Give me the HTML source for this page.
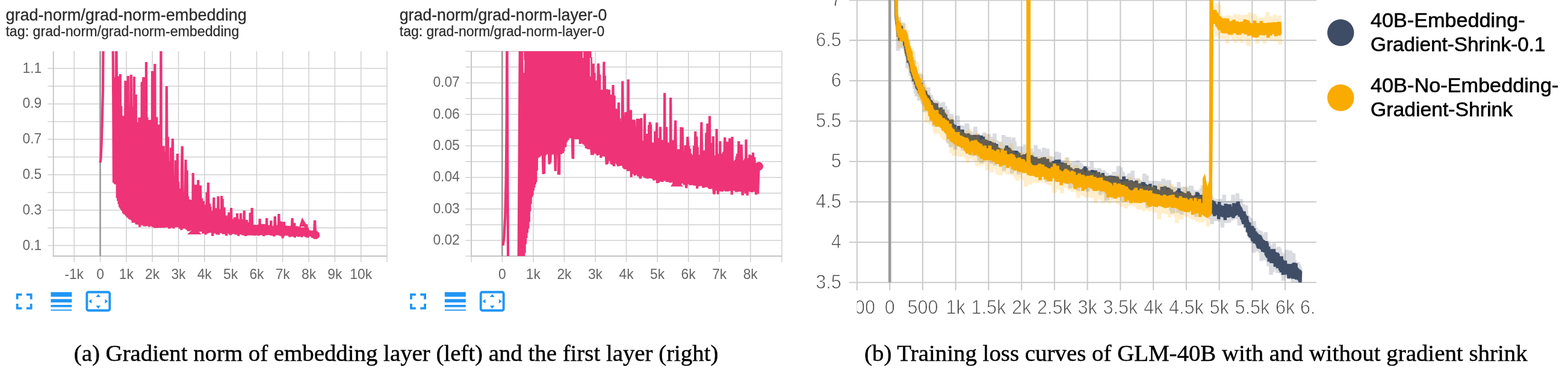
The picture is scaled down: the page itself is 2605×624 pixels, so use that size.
<!DOCTYPE html>
<html lang="en"><head><meta charset="utf-8"><title>Gradient norm and training loss</title>
<style>
html,body{margin:0;padding:0;background:#fff;}
body{width:2605px;height:624px;overflow:hidden;font-family:"Liberation Sans",sans-serif;}
svg{display:block;}
</style></head><body>
<svg width="2605" height="624" viewBox="0 0 2605 624" font-family="'Liberation Sans', sans-serif">
<rect width="2605" height="624" fill="#fff"/>
<g stroke="#d0d0d0" stroke-width="1.5" fill="none"><line x1="123.2" y1="85.0" x2="123.2" y2="435.0"/><line x1="166.5" y1="85.0" x2="166.5" y2="435.0"/><line x1="209.8" y1="85.0" x2="209.8" y2="435.0"/><line x1="253.1" y1="85.0" x2="253.1" y2="435.0"/><line x1="296.5" y1="85.0" x2="296.5" y2="435.0"/><line x1="339.8" y1="85.0" x2="339.8" y2="435.0"/><line x1="383.1" y1="85.0" x2="383.1" y2="435.0"/><line x1="426.4" y1="85.0" x2="426.4" y2="435.0"/><line x1="469.7" y1="85.0" x2="469.7" y2="435.0"/><line x1="513.1" y1="85.0" x2="513.1" y2="435.0"/><line x1="556.4" y1="85.0" x2="556.4" y2="435.0"/><line x1="599.7" y1="85.0" x2="599.7" y2="435.0"/><line x1="643.0" y1="85.0" x2="643.0" y2="435.0"/><line x1="79.2" y1="113.6" x2="643.0" y2="113.6"/><line x1="79.2" y1="143.0" x2="643.0" y2="143.0"/><line x1="79.2" y1="172.4" x2="643.0" y2="172.4"/><line x1="79.2" y1="201.8" x2="643.0" y2="201.8"/><line x1="79.2" y1="231.2" x2="643.0" y2="231.2"/><line x1="79.2" y1="260.6" x2="643.0" y2="260.6"/><line x1="79.2" y1="290.0" x2="643.0" y2="290.0"/><line x1="79.2" y1="319.4" x2="643.0" y2="319.4"/><line x1="79.2" y1="348.8" x2="643.0" y2="348.8"/><line x1="79.2" y1="378.2" x2="643.0" y2="378.2"/><line x1="79.2" y1="407.6" x2="643.0" y2="407.6"/></g>
<g stroke="#c4c4c4" stroke-width="1.8" fill="none"><line x1="88.7" y1="85.0" x2="88.7" y2="425.9"/><line x1="87.8" y1="425.0" x2="643.0" y2="425.0"/></g>
<line x1="166.5" y1="85.0" x2="166.5" y2="425.0" stroke="#999" stroke-width="2.6"/>
<g font-size="23.4" fill="#666"><text x="107.3" y="462.6" textLength="31.7" lengthAdjust="spacingAndGlyphs">-1k</text><text x="160.2" y="462.6" textLength="12.7" lengthAdjust="spacingAndGlyphs">0</text><text x="197.8" y="462.6" textLength="24.1" lengthAdjust="spacingAndGlyphs">1k</text><text x="241.1" y="462.6" textLength="24.1" lengthAdjust="spacingAndGlyphs">2k</text><text x="284.4" y="462.6" textLength="24.1" lengthAdjust="spacingAndGlyphs">3k</text><text x="327.7" y="462.6" textLength="24.1" lengthAdjust="spacingAndGlyphs">4k</text><text x="371.1" y="462.6" textLength="24.1" lengthAdjust="spacingAndGlyphs">5k</text><text x="414.4" y="462.6" textLength="24.1" lengthAdjust="spacingAndGlyphs">6k</text><text x="457.7" y="462.6" textLength="24.1" lengthAdjust="spacingAndGlyphs">7k</text><text x="501.0" y="462.6" textLength="24.1" lengthAdjust="spacingAndGlyphs">8k</text><text x="544.3" y="462.6" textLength="24.1" lengthAdjust="spacingAndGlyphs">9k</text><text x="581.3" y="462.6" textLength="36.8" lengthAdjust="spacingAndGlyphs">10k</text><text x="37.5" y="120.6" textLength="31.7" lengthAdjust="spacingAndGlyphs">1.1</text><text x="37.5" y="179.4" textLength="31.7" lengthAdjust="spacingAndGlyphs">0.9</text><text x="37.5" y="238.2" textLength="31.7" lengthAdjust="spacingAndGlyphs">0.7</text><text x="37.5" y="297.0" textLength="31.7" lengthAdjust="spacingAndGlyphs">0.5</text><text x="37.5" y="355.8" textLength="31.7" lengthAdjust="spacingAndGlyphs">0.3</text><text x="37.5" y="414.6" textLength="31.7" lengthAdjust="spacingAndGlyphs">0.1</text></g>
<clipPath id="cl"><rect x="88.7" y="85.0" width="554.3" height="340.0"/></clipPath>
<g clip-path="url(#cl)"><polyline points="166.5,270.0 167.5,262.0 168.6,240.0 169.8,200.0 171.0,150.0 171.6,60.0 173.0,-200.0 185.5,-200.0 187.0,60.0 187.5,60.0 188.2,158.6 188.9,302.9 189.7,128.3 190.4,304.6 191.1,154.7 191.8,306.0 192.5,168.2 193.3,60.0 194.0,152.4 194.7,328.4 195.4,187.0 196.1,333.4 196.9,126.4 197.6,338.8 198.3,193.0 199.0,343.4 199.7,123.0 200.5,346.0 201.2,175.7 201.9,347.9 202.6,191.9 203.3,350.0 204.1,199.6 204.8,353.5 205.5,192.5 206.2,355.5 206.9,209.3 207.7,355.3 208.4,134.0 209.1,357.4 209.8,137.4 210.5,358.5 211.3,182.8 212.0,360.8 212.7,126.0 213.4,361.4 214.1,198.2 214.9,363.3 215.6,180.0 216.3,364.5 217.0,189.7 217.7,124.0 218.5,213.6 219.2,365.9 219.9,177.2 220.6,369.7 221.3,233.5 222.1,367.9 222.8,127.3 223.5,369.3 224.2,181.6 224.9,369.4 225.7,157.0 226.4,372.2 227.1,205.9 227.8,372.7 228.5,217.2 229.3,370.7 230.0,202.9 230.7,371.1 231.4,194.9 232.1,376.7 232.9,246.4 233.6,372.9 234.3,223.3 235.0,373.7 235.7,136.0 236.5,372.4 237.2,202.5 237.9,134.0 238.6,128.1 239.3,375.4 240.1,253.8 240.8,375.8 241.5,203.4 242.2,374.8 242.9,103.0 243.7,375.0 244.4,194.7 245.1,375.3 245.8,201.8 246.5,374.4 247.3,258.2 248.0,376.6 248.7,199.1 249.4,374.7 250.1,200.9 250.9,375.3 251.6,200.3 252.3,371.7 253.0,118.0 253.7,376.7 254.5,209.7 255.2,375.9 255.9,210.7 256.6,377.9 257.3,106.0 258.1,378.3 258.8,228.4 259.5,374.4 260.2,194.3 260.9,378.3 261.7,244.8 262.4,376.7 263.1,206.7 263.8,377.7 264.5,256.2 265.3,376.9 266.0,250.8 266.7,378.0 267.4,60.0 268.1,377.7 268.9,279.8 269.6,377.0 270.3,278.3 271.0,377.5 271.7,242.3 272.5,378.1 273.2,251.1 273.9,376.6 274.6,258.4 275.3,377.4 276.1,299.1 276.8,143.0 277.5,265.3 278.2,376.9 278.9,227.2 279.7,377.5 280.4,267.7 281.1,379.6 281.8,273.6 282.5,379.1 283.3,290.4 284.0,245.0 284.7,283.7 285.4,377.2 286.1,255.4 286.9,230.0 287.6,305.7 288.3,379.3 289.0,301.0 289.7,377.3 290.5,296.4 291.2,376.4 291.9,266.0 292.6,376.2 293.3,316.4 294.1,377.1 294.8,254.9 295.5,375.3 296.2,301.7 296.9,374.1 297.7,313.0 298.4,379.6 299.1,320.6 299.8,379.1 300.5,313.7 301.3,381.8 302.0,278.1 302.7,242.5 303.4,323.6 304.1,379.1 304.9,318.6 305.6,379.4 306.3,322.2 307.0,379.3 307.7,317.9 308.5,265.0 309.2,323.1 309.9,380.7 310.6,282.6 311.3,381.6 312.1,325.9 312.8,383.6 313.5,336.3 314.2,383.7 314.9,331.1 315.7,381.4 316.4,331.7 317.1,382.4 317.8,338.0 318.5,382.2 319.3,340.3 320.0,385.0 320.7,287.0 321.4,383.3 322.1,335.4 322.9,382.4 323.6,333.2 324.3,383.3 325.0,306.5 325.7,384.3 326.5,340.3 327.2,386.0 327.9,335.0 328.6,384.7 329.3,298.8 330.1,382.5 330.8,338.7 331.5,384.6 332.2,341.9 332.9,307.7 333.7,338.0 334.4,382.9 335.1,329.0 335.8,384.1 336.5,339.3 337.3,387.8 338.0,333.6 338.7,385.8 339.4,348.7 340.1,384.5 340.9,342.5 341.6,389.5 342.3,339.5 343.0,385.9 343.7,318.7 344.5,387.5 345.2,349.4 345.9,303.0 346.6,347.7 347.3,386.5 348.1,338.1 348.8,384.8 349.5,343.2 350.2,386.2 350.9,356.6 351.7,386.3 352.4,349.7 353.1,391.8 353.8,353.9 354.5,386.0 355.3,327.8 356.0,386.7 356.7,358.9 357.4,387.5 358.1,345.4 358.9,385.1 359.6,351.7 360.3,389.3 361.0,347.1 361.7,384.0 362.5,325.7 363.2,389.6 363.9,352.1 364.6,386.7 365.3,347.0 366.1,386.9 366.8,360.4 367.5,384.0 368.2,325.0 368.9,386.4 369.7,330.0 370.4,388.3 371.1,357.7 371.8,388.8 372.5,344.0 373.3,388.3 374.0,357.9 374.7,388.3 375.4,357.5 376.1,391.3 376.9,364.7 377.6,387.4 378.3,362.1 379.0,387.2 379.7,361.1 380.5,352.5 381.2,366.7 381.9,389.3 382.6,357.6 383.3,390.2 384.1,345.0 384.8,386.4 385.5,364.4 386.2,387.4 386.9,365.1 387.7,388.4 388.4,363.5 389.1,388.2 389.8,360.6 390.5,387.0 391.3,364.5 392.0,389.4 392.7,361.1 393.4,388.8 394.1,354.0 394.9,389.4 395.6,368.9 396.3,391.6 397.0,363.5 397.7,386.7 398.5,366.2 399.2,389.0 399.9,353.9 400.6,387.2 401.3,366.9 402.1,388.5 402.8,364.0 403.5,390.4 404.2,372.9 404.9,388.9 405.7,349.6 406.4,388.9 407.1,371.8 407.8,391.8 408.5,374.1 409.3,390.5 410.0,365.0 410.7,390.7 411.4,374.3 412.1,389.6 412.9,369.2 413.6,389.9 414.3,374.6 415.0,390.4 415.7,353.0 416.5,387.8 417.2,373.6 417.9,390.7 418.6,345.0 419.3,390.6 420.1,374.9 420.8,388.5 421.5,373.6 422.2,390.7 422.9,373.0 423.7,390.9 424.4,375.2 425.1,388.2 425.8,374.5 426.5,389.9 427.3,373.3 428.0,389.5 428.7,373.0 429.4,391.2 430.1,372.9 430.9,389.4 431.6,363.0 432.3,390.0 433.0,377.1 433.7,390.1 434.5,371.9 435.2,389.4 435.9,371.9 436.6,387.3 437.3,372.4 438.1,391.9 438.8,372.1 439.5,389.5 440.2,375.2 440.9,390.4 441.7,372.0 442.4,390.1 443.1,362.0 443.8,389.5 444.5,374.9 445.3,389.0 446.0,373.6 446.7,389.8 447.4,378.3 448.1,390.2 448.9,373.9 449.6,390.0 450.3,366.1 451.0,391.0 451.7,375.0 452.5,387.0 453.2,379.9 453.9,390.3 454.6,380.0 455.3,392.5 456.1,377.6 456.8,359.0 457.5,374.9 458.2,390.4 458.9,376.2 459.7,390.2 460.4,375.2 461.1,390.0 461.8,373.8 462.5,389.8 463.3,355.0 464.0,390.8 464.7,378.3 465.4,390.9 466.1,367.2 466.9,391.8 467.6,375.1 468.3,392.0 469.0,376.9 469.7,395.4 470.5,368.2 471.2,392.2 471.9,368.0 472.6,388.5 473.3,379.2 474.1,390.7 474.8,377.6 475.5,388.1 476.2,374.7 476.9,391.1 477.7,380.5 478.4,391.0 479.1,375.9 479.8,389.1 480.5,374.8 481.3,393.5 482.0,375.7 482.7,392.6 483.4,379.0 484.1,390.9 484.9,375.5 485.6,362.0 486.3,380.2 487.0,392.6 487.7,377.9 488.5,387.3 489.2,370.0 489.9,394.3 490.6,377.2 491.3,391.9 492.1,378.0 492.8,388.7 493.5,375.4 494.2,391.2 494.9,377.7 495.7,393.0 496.4,378.5 497.1,390.0 497.8,376.4 498.5,392.5 499.3,377.3 500.0,390.5 500.7,378.0 501.4,393.6 502.1,381.8 502.9,390.6 503.6,377.7 504.3,389.4 505.0,377.3 505.7,391.5 506.5,380.7 507.2,392.5 507.9,372.4 508.6,393.5 509.3,372.3 510.1,394.2 510.8,377.9 511.5,394.4 512.2,381.7 512.9,391.6 513.7,382.5 514.4,391.8 515.1,383.7 515.8,391.6 516.5,382.6 517.3,392.1 518.0,383.5 518.7,394.5 519.4,382.5 520.1,394.3 520.9,382.8 521.6,393.6 522.3,380.3 523.0,365.6 524.2,390.0" fill="none" stroke="#EE3377" stroke-width="4.2" stroke-linejoin="miter" stroke-miterlimit="2"/>
<path d="M311 389 L323 378 L335 389z M497 376 L501.9 361 L511 376z" fill="#EE3377"/></g>
<circle cx="524.2" cy="390" r="7" fill="#EE3377"/>
<path d="M28.60 496.70 V488.90 H36.40 M43.90 488.90 H51.70 V496.70 M51.70 503.90 V511.70 H43.90 M36.40 511.70 H28.60 V503.90" stroke="#2196F3" stroke-width="3.8" fill="none"/><rect x="84.4" y="484.8" width="35" height="7.7" fill="#2196F3"/><rect x="84.4" y="496.3" width="35" height="5.6" fill="#2196F3"/><rect x="84.4" y="506.0" width="35" height="3.7" fill="#2196F3"/><rect x="84.4" y="513.7" width="35" height="1.9" fill="#2196F3"/><rect x="144.35" y="484.75" width="37.9" height="30.5" rx="2.6" ry="2.6" stroke="#2196F3" stroke-width="3.9" fill="none"/><path d="M163.2 488.0 l3.9 4.9 h-7.8z M163.2 512.2 l3.9 -4.9 h-7.8z M147.2 500.1 l4.9 -3.7 v7.4z M179.3 500.1 l-4.9 -3.7 v7.4z" fill="#2196F3"/>
<text x="9.4" y="33.7" font-size="28" fill="#2b2b2b" stroke="#2b2b2b" stroke-width="0.3" textLength="400.4" lengthAdjust="spacingAndGlyphs">grad-norm/grad-norm-embedding</text>
<text x="9.4" y="60.0" font-size="23" fill="#2b2b2b" stroke="#2b2b2b" stroke-width="0.25" textLength="388" lengthAdjust="spacingAndGlyphs">tag: grad-norm/grad-norm-embedding</text>
<g stroke="#d0d0d0" stroke-width="1.5" fill="none"><line x1="834.3" y1="85.0" x2="834.3" y2="435.0"/><line x1="885.9" y1="85.0" x2="885.9" y2="435.0"/><line x1="937.4" y1="85.0" x2="937.4" y2="435.0"/><line x1="989.0" y1="85.0" x2="989.0" y2="435.0"/><line x1="1040.5" y1="85.0" x2="1040.5" y2="435.0"/><line x1="1092.1" y1="85.0" x2="1092.1" y2="435.0"/><line x1="1143.7" y1="85.0" x2="1143.7" y2="435.0"/><line x1="1195.2" y1="85.0" x2="1195.2" y2="435.0"/><line x1="1246.8" y1="85.0" x2="1246.8" y2="435.0"/><line x1="1299.0" y1="85.0" x2="1299.0" y2="435.0"/><line x1="782.9" y1="85.0" x2="782.9" y2="435.0"/><line x1="773.4" y1="85.3" x2="1299.0" y2="85.3"/><line x1="773.4" y1="111.2" x2="1299.0" y2="111.2"/><line x1="773.4" y1="137.4" x2="1299.0" y2="137.4"/><line x1="773.4" y1="163.6" x2="1299.0" y2="163.6"/><line x1="773.4" y1="189.7" x2="1299.0" y2="189.7"/><line x1="773.4" y1="215.9" x2="1299.0" y2="215.9"/><line x1="773.4" y1="242.1" x2="1299.0" y2="242.1"/><line x1="773.4" y1="268.2" x2="1299.0" y2="268.2"/><line x1="773.4" y1="294.4" x2="1299.0" y2="294.4"/><line x1="773.4" y1="320.6" x2="1299.0" y2="320.6"/><line x1="773.4" y1="346.8" x2="1299.0" y2="346.8"/><line x1="773.4" y1="372.9" x2="1299.0" y2="372.9"/><line x1="773.4" y1="399.1" x2="1299.0" y2="399.1"/><line x1="773.4" y1="425.0" x2="1299.0" y2="425.0"/></g>
<g stroke="#c4c4c4" stroke-width="1.8" fill="none"><line x1="782.9" y1="85.0" x2="782.9" y2="425.9"/><line x1="782.0" y1="425.0" x2="1299.0" y2="425.0"/></g>
<line x1="834.3" y1="85.0" x2="834.3" y2="425.0" stroke="#999" stroke-width="2.6"/>
<g font-size="23.4" fill="#666"><text x="828.0" y="462.6" textLength="12.7" lengthAdjust="spacingAndGlyphs">0</text><text x="873.8" y="462.6" textLength="24.1" lengthAdjust="spacingAndGlyphs">1k</text><text x="925.4" y="462.6" textLength="24.1" lengthAdjust="spacingAndGlyphs">2k</text><text x="976.9" y="462.6" textLength="24.1" lengthAdjust="spacingAndGlyphs">3k</text><text x="1028.5" y="462.6" textLength="24.1" lengthAdjust="spacingAndGlyphs">4k</text><text x="1080.1" y="462.6" textLength="24.1" lengthAdjust="spacingAndGlyphs">5k</text><text x="1131.6" y="462.6" textLength="24.1" lengthAdjust="spacingAndGlyphs">6k</text><text x="1183.2" y="462.6" textLength="24.1" lengthAdjust="spacingAndGlyphs">7k</text><text x="1234.7" y="462.6" textLength="24.1" lengthAdjust="spacingAndGlyphs">8k</text><text x="719.4" y="144.4" textLength="44.4" lengthAdjust="spacingAndGlyphs">0.07</text><text x="719.4" y="196.7" textLength="44.4" lengthAdjust="spacingAndGlyphs">0.06</text><text x="719.4" y="249.1" textLength="44.4" lengthAdjust="spacingAndGlyphs">0.05</text><text x="719.4" y="301.4" textLength="44.4" lengthAdjust="spacingAndGlyphs">0.04</text><text x="719.4" y="353.8" textLength="44.4" lengthAdjust="spacingAndGlyphs">0.03</text><text x="719.4" y="406.1" textLength="44.4" lengthAdjust="spacingAndGlyphs">0.02</text></g>
<clipPath id="cm"><rect x="782.9" y="85.0" width="516.1" height="340.0"/></clipPath>
<g clip-path="url(#cm)"><polyline points="835.6,407.4 837.3,395.0 839.2,360.0 840.6,300.0 841.7,200.0 842.4,40.0 843.0,200.0 843.6,340.0 844.2,470.0 845.0,600.0 859.6,600.0 861.7,425.0 864.0,40.0 864.4,470.2 865.1,58.1 865.8,459.8 866.6,96.8 867.3,449.6 868.0,40.0 868.7,443.1 869.4,59.8 870.2,435.6 870.9,40.0 871.6,419.7 872.3,40.0 873.0,405.0 873.8,119.1 874.5,394.9 875.2,40.0 875.9,386.5 876.6,90.3 877.4,379.5 878.1,40.0 878.8,368.4 879.5,40.0 880.2,350.8 881.0,40.0 881.7,338.4 882.4,40.0 883.1,327.3 883.8,40.0 884.6,324.2 885.3,40.0 886.0,316.3 886.7,90.1 887.4,311.2 888.2,73.5 888.9,306.1 889.6,40.0 890.3,302.6 891.0,40.0 891.8,283.3 892.5,40.0 893.2,262.4 893.9,40.0 894.6,259.2 895.4,40.0 896.1,260.8 896.8,65.0 897.5,257.6 898.2,40.0 899.0,258.2 899.7,40.0 900.4,257.1 901.1,40.0 901.8,258.7 902.6,289.0 903.3,258.1 904.0,288.0 904.7,257.3 905.4,65.4 906.2,257.8 906.9,40.0 907.6,255.8 908.3,73.2 909.0,255.7 909.8,47.7 910.5,253.7 911.2,66.3 911.9,252.8 912.6,272.7 913.4,257.0 914.1,270.0 914.8,256.4 915.5,40.0 916.2,254.0 917.0,64.0 917.7,256.6 918.4,40.0 919.1,252.9 919.8,40.0 920.6,255.7 921.3,40.0 922.0,256.6 922.7,284.0 923.4,253.4 924.2,40.0 924.9,256.0 925.6,55.8 926.3,256.8 927.0,40.0 927.8,290.0 928.5,45.4 929.2,290.0 929.9,40.0 930.6,255.7 931.4,40.0 932.1,256.0 932.8,40.0 933.5,250.4 934.2,40.0 935.0,254.3 935.7,40.0 936.4,251.1 937.1,40.0 937.8,244.4 938.6,40.4 939.3,244.0 940.0,40.0 940.7,236.2 941.4,40.0 942.2,233.4 942.9,40.0 943.6,232.3 944.3,40.0 945.0,227.0 945.8,48.9 946.5,228.2 947.2,40.0 947.9,229.4 948.6,59.1 949.4,228.4 950.1,48.5 950.8,229.6 951.5,263.0 952.2,262.0 953.0,40.0 953.7,231.1 954.4,48.4 955.1,229.1 955.8,42.1 956.6,231.0 957.3,40.0 958.0,228.4 958.7,42.7 959.4,231.3 960.2,40.0 960.9,231.3 961.6,54.8 962.3,230.3 963.0,40.0 963.8,238.9 964.5,40.0 965.2,234.3 965.9,40.0 966.6,234.7 967.4,40.0 968.1,237.7 968.8,40.0 969.5,239.8 970.2,64.8 971.0,239.1 971.7,40.6 972.4,241.8 973.1,40.0 973.8,246.0 974.6,40.0 975.3,246.3 976.0,40.0 976.7,247.6 977.4,58.7 978.2,247.8 978.9,47.2 979.6,247.0 980.3,40.0 981.0,247.8 981.8,95.0 982.5,248.4 983.2,257.0 983.9,248.6 984.6,257.0 985.4,252.9 986.1,105.6 986.8,252.4 987.5,112.7 988.2,253.2 989.0,136.3 989.7,255.3 990.4,153.5 991.1,252.5 991.8,133.5 992.6,258.0 993.3,138.1 994.0,105.3 994.7,121.2 995.4,256.8 996.2,123.8 996.9,255.7 997.6,153.2 998.3,262.0 999.0,149.1 999.8,255.1 1000.5,158.3 1001.2,259.4 1001.9,167.6 1002.6,258.1 1003.4,102.4 1004.1,257.1 1004.8,125.2 1005.5,260.2 1006.2,164.5 1007.0,260.2 1007.7,273.0 1008.4,148.0 1009.1,272.0 1009.8,259.3 1010.6,166.2 1011.3,264.3 1012.0,148.8 1012.7,267.2 1013.4,202.4 1014.2,262.9 1014.9,157.3 1015.6,272.1 1016.3,186.6 1017.0,273.6 1017.8,190.2 1018.5,141.0 1019.2,196.5 1019.9,276.0 1020.6,158.6 1021.4,268.5 1022.1,190.1 1022.8,267.7 1023.5,180.5 1024.2,271.4 1025.0,213.6 1025.7,273.6 1026.4,214.4 1027.1,276.0 1027.8,170.1 1028.6,271.7 1029.3,196.5 1030.0,275.3 1030.7,202.0 1031.4,273.8 1032.2,207.9 1032.9,275.0 1033.6,210.3 1034.3,134.5 1035.0,203.8 1035.8,278.4 1036.5,191.8 1037.2,280.0 1037.9,198.7 1038.6,280.9 1039.4,186.1 1040.1,280.1 1040.8,201.6 1041.5,280.7 1042.2,215.5 1043.0,283.9 1043.7,131.7 1044.4,283.9 1045.1,199.0 1045.8,282.3 1046.6,221.2 1047.3,282.3 1048.0,182.5 1048.7,294.0 1049.4,201.1 1050.2,288.6 1050.9,215.9 1051.6,288.5 1052.3,198.6 1053.0,288.7 1053.8,199.3 1054.5,291.4 1055.2,212.3 1055.9,290.2 1056.6,212.5 1057.4,287.9 1058.1,212.8 1058.8,197.0 1059.5,221.2 1060.2,292.7 1061.0,229.1 1061.7,292.0 1062.4,197.3 1063.1,292.5 1063.8,296.0 1064.6,292.9 1065.3,196.1 1066.0,292.1 1066.7,233.7 1067.4,291.2 1068.2,235.3 1068.9,291.5 1069.6,233.4 1070.3,294.3 1071.0,188.4 1071.8,294.7 1072.5,239.5 1073.2,295.6 1073.9,235.5 1074.6,294.3 1075.4,221.9 1076.1,296.4 1076.8,223.7 1077.5,295.3 1078.2,207.6 1079.0,294.1 1079.7,202.4 1080.4,295.8 1081.1,206.4 1081.8,295.9 1082.6,242.6 1083.3,296.0 1084.0,244.1 1084.7,297.0 1085.4,236.5 1086.2,299.5 1086.9,250.4 1087.6,295.7 1088.3,217.7 1089.0,298.8 1089.8,252.0 1090.5,298.6 1091.2,203.6 1091.9,304.0 1092.6,228.9 1093.4,297.7 1094.1,303.0 1094.8,296.6 1095.5,247.0 1096.2,295.5 1097.0,210.6 1097.7,300.4 1098.4,239.0 1099.1,301.8 1099.8,234.7 1100.6,302.1 1101.3,232.3 1102.0,300.1 1102.7,250.3 1103.4,299.9 1104.2,154.3 1104.9,300.3 1105.6,211.0 1106.3,299.3 1107.0,210.8 1107.8,302.1 1108.5,240.9 1109.2,298.8 1109.9,236.5 1110.6,302.1 1111.4,238.2 1112.1,300.6 1112.8,238.3 1113.5,303.2 1114.2,162.0 1115.0,302.1 1115.7,249.5 1116.4,302.1 1117.1,246.6 1117.8,302.0 1118.6,232.4 1119.3,304.8 1120.0,248.7 1120.7,303.7 1121.4,231.5 1122.2,199.9 1122.9,253.2 1123.6,302.2 1124.3,249.7 1125.0,302.1 1125.8,253.8 1126.5,303.2 1127.2,247.6 1127.9,303.0 1128.6,252.5 1129.4,304.3 1130.1,259.2 1130.8,305.8 1131.5,211.1 1132.2,303.2 1133.0,246.8 1133.7,211.5 1134.4,259.1 1135.1,304.3 1135.8,261.8 1136.6,306.6 1137.3,257.7 1138.0,304.8 1138.7,241.0 1139.4,303.5 1140.2,312.0 1140.9,303.5 1141.6,256.4 1142.3,227.0 1143.0,237.9 1143.8,305.3 1144.5,242.4 1145.2,305.5 1145.9,247.0 1146.6,307.4 1147.4,254.3 1148.1,306.9 1148.8,257.0 1149.5,307.3 1150.2,261.6 1151.0,304.8 1151.7,263.2 1152.4,305.7 1153.1,242.0 1153.8,308.3 1154.6,256.1 1155.3,218.0 1156.0,252.7 1156.7,306.9 1157.4,226.4 1158.2,313.0 1158.9,244.0 1159.6,309.5 1160.3,264.3 1161.0,305.5 1161.8,265.5 1162.5,306.7 1163.2,256.7 1163.9,308.7 1164.6,245.1 1165.4,202.9 1166.1,252.8 1166.8,308.5 1167.5,256.6 1168.2,311.7 1169.0,249.6 1169.7,311.2 1170.4,253.6 1171.1,308.0 1171.8,270.0 1172.6,310.2 1173.3,220.3 1174.0,310.8 1174.7,267.5 1175.4,205.0 1176.2,247.8 1176.9,311.3 1177.6,251.0 1178.3,313.3 1179.0,192.4 1179.8,313.8 1180.5,254.3 1181.2,311.3 1181.9,237.3 1182.6,313.2 1183.4,248.3 1184.1,313.0 1184.8,226.2 1185.5,315.2 1186.2,322.0 1187.0,319.6 1187.7,257.9 1188.4,314.2 1189.1,262.5 1189.8,315.8 1190.6,213.9 1191.3,316.5 1192.0,273.3 1192.7,322.5 1193.4,260.4 1194.2,315.6 1194.9,255.5 1195.6,316.3 1196.3,234.2 1197.0,317.7 1197.8,254.7 1198.5,317.1 1199.2,257.1 1199.9,318.0 1200.6,265.0 1201.4,314.0 1202.1,252.1 1202.8,316.1 1203.5,258.0 1204.2,228.0 1205.0,255.7 1205.7,317.8 1206.4,253.5 1207.1,315.5 1207.8,235.3 1208.6,317.7 1209.3,263.8 1210.0,316.9 1210.7,262.5 1211.4,316.7 1212.2,229.6 1212.9,316.0 1213.6,266.7 1214.3,317.0 1215.0,262.3 1215.8,323.0 1216.5,227.0 1217.2,313.9 1217.9,268.1 1218.6,316.5 1219.4,272.9 1220.1,316.2 1220.8,267.4 1221.5,316.8 1222.2,265.1 1223.0,318.8 1223.7,259.4 1224.4,318.4 1225.1,255.1 1225.8,317.0 1226.6,277.0 1227.3,234.4 1228.0,263.6 1228.7,318.1 1229.4,255.7 1230.2,316.6 1230.9,273.8 1231.6,240.0 1232.3,256.5 1233.0,316.1 1233.8,324.0 1234.5,316.0 1235.2,273.1 1235.9,317.4 1236.6,265.7 1237.4,317.7 1238.1,263.2 1238.8,321.4 1239.5,231.6 1240.2,319.5 1241.0,278.3 1241.7,324.5 1242.4,262.3 1243.1,317.2 1243.8,266.2 1244.6,317.1 1245.3,256.6 1246.0,318.2 1246.7,272.7 1247.4,318.5 1248.2,270.7 1248.9,318.9 1249.6,257.7 1250.3,316.6 1251.0,253.2 1251.8,318.4 1252.5,263.0 1253.2,261.0 1253.9,272.7 1254.6,317.9 1255.4,279.4 1256.1,323.0 1256.8,271.6 1257.5,317.2 1258.2,276.5 1259.0,321.7 1260.7,276.0" fill="none" stroke="#EE3377" stroke-width="4.2" stroke-linejoin="miter" stroke-miterlimit="2"/>
<path d="M1114 309.5 L1123 296 L1135 309.5z" fill="#EE3377"/>
<path d="M869.6 86 L870.2 120 M870.8 100 L870.4 121 M968.6 86 V96 M980.8 96 V127 M988.6 106 V121" stroke="#fff" stroke-width="1.3" fill="none" opacity="0.9"/></g>
<circle cx="1260.8" cy="276" r="7.2" fill="#EE3377"/>
<path d="M683.00 496.70 V488.90 H690.80 M698.30 488.90 H706.10 V496.70 M706.10 503.90 V511.70 H698.30 M690.80 511.70 H683.00 V503.90" stroke="#2196F3" stroke-width="3.8" fill="none"/><rect x="738.8" y="484.8" width="35" height="7.7" fill="#2196F3"/><rect x="738.8" y="496.3" width="35" height="5.6" fill="#2196F3"/><rect x="738.8" y="506.0" width="35" height="3.7" fill="#2196F3"/><rect x="738.8" y="513.7" width="35" height="1.9" fill="#2196F3"/><rect x="798.75" y="484.75" width="37.9" height="30.5" rx="2.6" ry="2.6" stroke="#2196F3" stroke-width="3.9" fill="none"/><path d="M817.7 488.0 l3.9 4.9 h-7.8z M817.7 512.2 l3.9 -4.9 h-7.8z M801.6 500.1 l4.9 -3.7 v7.4z M833.8 500.1 l-4.9 -3.7 v7.4z" fill="#2196F3"/>
<text x="663.7" y="33.6" font-size="28" fill="#2b2b2b" stroke="#2b2b2b" stroke-width="0.3" textLength="344.6" lengthAdjust="spacingAndGlyphs">grad-norm/grad-norm-layer-0</text>
<text x="663.8" y="59.9" font-size="23" fill="#2b2b2b" stroke="#2b2b2b" stroke-width="0.25" textLength="340.4" lengthAdjust="spacingAndGlyphs">tag: grad-norm/grad-norm-layer-0</text>
<g stroke="#cbcbcb" stroke-width="2.1" fill="none"><line x1="1423.8" y1="0" x2="1423.8" y2="481.8"/><line x1="1532.9" y1="0" x2="1532.9" y2="481.8"/><line x1="1587.7" y1="0" x2="1587.7" y2="481.8"/><line x1="1642.4" y1="0" x2="1642.4" y2="481.8"/><line x1="1697.2" y1="0" x2="1697.2" y2="481.8"/><line x1="1751.9" y1="0" x2="1751.9" y2="481.8"/><line x1="1806.6" y1="0" x2="1806.6" y2="481.8"/><line x1="1861.4" y1="0" x2="1861.4" y2="481.8"/><line x1="1916.1" y1="0" x2="1916.1" y2="481.8"/><line x1="1970.9" y1="0" x2="1970.9" y2="481.8"/><line x1="2025.6" y1="0" x2="2025.6" y2="481.8"/><line x1="2080.3" y1="0" x2="2080.3" y2="481.8"/><line x1="2135.1" y1="0" x2="2135.1" y2="481.8"/><line x1="1410.8" y1="0.5" x2="2187.0" y2="0.5"/><line x1="1410.8" y1="66.9" x2="2187.0" y2="66.9"/><line x1="1410.8" y1="134.0" x2="2187.0" y2="134.0"/><line x1="1410.8" y1="201.0" x2="2187.0" y2="201.0"/><line x1="1410.8" y1="268.0" x2="2187.0" y2="268.0"/><line x1="1410.8" y1="335.0" x2="2187.0" y2="335.0"/><line x1="1410.8" y1="402.0" x2="2187.0" y2="402.0"/><line x1="1410.8" y1="468.8" x2="2187.0" y2="468.8"/></g>
<line x1="1478.2" y1="0" x2="1478.2" y2="468.8" stroke="#9a9a9a" stroke-width="4.6"/>
<line x1="1478.2" y1="468.8" x2="1478.2" y2="481.8" stroke="#cbcbcb" stroke-width="2.1"/>
<clipPath id="cx"><rect x="1423.8" y="485" width="763.2" height="50"/></clipPath>
<g font-size="32.6" fill="#444" stroke="#fff" stroke-width="0.9" clip-path="url(#cx)"><text x="1392.8" y="520.8" textLength="61.3" lengthAdjust="spacingAndGlyphs">-500</text><text x="1469.7" y="520.8" textLength="17.0" lengthAdjust="spacingAndGlyphs">0</text><text x="1507.4" y="520.8" textLength="51.1" lengthAdjust="spacingAndGlyphs">500</text><text x="1571.5" y="520.8" textLength="32.4" lengthAdjust="spacingAndGlyphs">1k</text><text x="1613.5" y="520.8" textLength="57.9" lengthAdjust="spacingAndGlyphs">1.5k</text><text x="1681.0" y="520.8" textLength="32.4" lengthAdjust="spacingAndGlyphs">2k</text><text x="1722.9" y="520.8" textLength="57.9" lengthAdjust="spacingAndGlyphs">2.5k</text><text x="1790.5" y="520.8" textLength="32.4" lengthAdjust="spacingAndGlyphs">3k</text><text x="1832.4" y="520.8" textLength="57.9" lengthAdjust="spacingAndGlyphs">3.5k</text><text x="1899.9" y="520.8" textLength="32.4" lengthAdjust="spacingAndGlyphs">4k</text><text x="1941.9" y="520.8" textLength="57.9" lengthAdjust="spacingAndGlyphs">4.5k</text><text x="2009.4" y="520.8" textLength="32.4" lengthAdjust="spacingAndGlyphs">5k</text><text x="2051.4" y="520.8" textLength="57.9" lengthAdjust="spacingAndGlyphs">5.5k</text><text x="2118.9" y="520.8" textLength="32.4" lengthAdjust="spacingAndGlyphs">6k</text><text x="2159.9" y="520.8" textLength="57.9" lengthAdjust="spacingAndGlyphs">6.5k</text></g>
<g font-size="32.6" fill="#444" stroke="#fff" stroke-width="0.9"><text x="1380.8" y="10.4" textLength="17.0" lengthAdjust="spacingAndGlyphs">7</text><text x="1355.2" y="76.8" textLength="42.6" lengthAdjust="spacingAndGlyphs">6.5</text><text x="1380.8" y="143.9" textLength="17.0" lengthAdjust="spacingAndGlyphs">6</text><text x="1355.2" y="210.9" textLength="42.6" lengthAdjust="spacingAndGlyphs">5.5</text><text x="1380.8" y="277.9" textLength="17.0" lengthAdjust="spacingAndGlyphs">5</text><text x="1355.2" y="344.9" textLength="42.6" lengthAdjust="spacingAndGlyphs">4.5</text><text x="1380.8" y="411.9" textLength="17.0" lengthAdjust="spacingAndGlyphs">4</text><text x="1355.2" y="478.7" textLength="42.6" lengthAdjust="spacingAndGlyphs">3.5</text></g>
<clipPath id="cr"><rect x="1423.8" y="0" width="763.2" height="468.8"/></clipPath><g clip-path="url(#cr)" fill="none" stroke-linejoin="miter" stroke-miterlimit="3">
<polyline points="1488.4,-28.1 1488.4,-30.9 1488.4,-25.4 1488.4,-28.7 1488.4,-24.6 1488.4,-26.5 1488.4,-22.3 1488.4,-25.3 1488.4,-20.1 1488.4,-22.4 1488.5,-18.4 1488.5,-22.1 1488.5,-15.1 1488.5,-18.4 1488.5,-14.5 1488.5,-16.5 1488.5,-12.5 1488.5,-14.6 1488.5,-9.5 1488.5,-12.5 1488.5,-8.2 1488.5,-10.7 1488.5,-6.6 1488.5,-8.5 1488.5,-4.5 1488.5,-6.4 1488.5,-2.1 1488.5,-4.6 1488.6,-0.3 1488.6,-2.4 1488.6,2.3 1488.6,-0.5 1488.6,3.9 1488.6,1.5 1488.6,5.6 1488.6,3.6 1488.6,7.8 1488.6,5.6 1488.6,9.4 1488.6,7.6 1488.6,11.7 1488.6,8.2 1488.6,13.8 1488.6,11.2 1488.6,15.6 1488.6,13.6 1488.7,17.9 1488.7,14.2 1488.7,19.5 1488.7,17.6 1488.7,21.7 1488.7,19.5 1488.7,23.7 1488.7,21.6 1488.7,25.4 1488.7,23.5 1488.8,27.9 1488.9,25.1 1489.0,29.6 1489.2,27.4 1489.3,31.6 1489.4,28.5 1489.5,33.9 1489.6,31.4 1489.7,35.4 1489.8,33.4 1489.9,37.8 1490.1,35.3 1490.2,39.6 1490.3,37.5 1490.4,41.8 1490.5,39.5 1490.6,43.7 1490.8,41.6 1490.9,45.5 1491.0,43.4 1491.1,47.7 1491.2,45.5 1491.3,49.6 1491.5,47.6 1491.6,51.6 1491.7,49.5 1491.8,84.6 1492.4,39.1 1493.0,70.5 1493.7,28.4 1494.3,72.8 1494.9,40.4 1495.5,74.5 1496.2,39.6 1496.8,80.5 1497.6,41.1 1498.4,76.0 1499.2,45.5 1499.9,74.5 1500.7,37.8 1501.5,75.4 1502.3,50.4 1502.5,76.3 1502.7,49.1 1503.0,78.1 1503.2,50.5 1503.4,81.8 1503.6,51.9 1503.8,81.9 1504.0,56.1 1504.3,83.9 1504.5,59.9 1504.7,87.2 1504.9,60.3 1505.1,88.3 1505.4,63.6 1505.6,92.7 1505.8,59.1 1506.0,93.4 1506.2,56.7 1506.4,94.3 1506.7,68.2 1506.9,96.3 1507.1,71.8 1507.3,100.0 1507.5,73.3 1507.7,112.9 1507.9,72.1 1508.2,112.2 1508.4,77.1 1508.6,106.4 1508.8,67.5 1509.1,103.7 1509.4,79.9 1509.7,106.0 1509.9,80.4 1510.2,109.5 1510.5,84.1 1510.8,110.0 1511.1,85.0 1511.4,113.0 1511.7,86.8 1511.9,115.2 1512.2,86.6 1512.5,125.7 1512.8,89.1 1513.1,117.7 1513.4,88.3 1513.7,120.7 1513.9,92.3 1514.2,121.9 1514.5,98.2 1514.8,127.0 1515.1,101.2 1515.5,131.4 1515.8,94.9 1516.1,132.0 1516.4,107.0 1516.8,135.6 1517.1,101.4 1517.4,137.6 1517.7,111.7 1518.1,138.7 1518.4,99.5 1518.7,139.9 1519.0,111.4 1519.4,147.6 1519.7,116.1 1520.0,141.5 1520.4,116.7 1520.7,147.0 1521.0,118.8 1521.3,155.3 1521.7,121.3 1522.0,148.6 1522.3,122.2 1522.6,160.1 1523.0,123.1 1523.3,150.2 1523.8,124.7 1524.2,152.5 1524.7,121.6 1525.1,154.0 1525.6,125.9 1526.1,158.2 1526.5,126.7 1527.0,166.9 1527.5,129.0 1527.9,157.1 1528.4,132.4 1528.8,159.3 1529.3,133.1 1529.8,162.9 1530.2,123.4 1530.7,162.5 1531.2,137.8 1531.6,164.8 1532.1,140.9 1532.5,169.1 1533.0,142.9 1533.5,171.9 1533.9,133.5 1534.4,173.1 1534.8,143.5 1535.3,175.2 1535.8,147.7 1536.2,185.9 1536.7,150.0 1537.2,178.7 1537.6,146.5 1538.1,179.8 1538.5,151.7 1539.0,183.1 1539.7,154.5 1540.4,184.4 1541.1,152.1 1541.8,184.1 1542.5,145.1 1543.2,185.7 1543.9,155.4 1544.6,188.2 1545.4,161.1 1546.1,189.6 1546.8,157.5 1547.5,192.5 1548.2,162.9 1548.9,196.3 1549.6,164.6 1550.3,195.9 1551.0,166.9 1551.7,209.9 1552.4,168.0 1553.1,200.9 1553.8,167.8 1554.4,197.2 1555.1,166.5 1555.8,200.8 1556.5,171.4 1557.2,201.9 1557.9,168.2 1558.6,201.9 1559.3,170.9 1560.0,203.5 1560.6,171.5 1561.3,207.4 1562.0,175.5 1562.7,205.6 1563.4,174.1 1564.0,207.9 1564.6,175.8 1565.2,206.9 1565.8,176.0 1566.5,210.7 1567.1,169.5 1567.7,214.3 1568.3,178.9 1568.9,213.7 1569.5,176.4 1570.1,216.1 1570.7,176.0 1571.3,219.9 1571.9,184.4 1572.6,221.5 1573.2,188.6 1573.8,219.7 1574.4,182.0 1575.0,237.6 1575.7,194.2 1576.3,224.6 1577.0,195.8 1577.7,238.4 1578.3,199.0 1579.0,244.1 1579.7,198.2 1580.3,233.7 1581.0,189.3 1581.7,239.5 1582.3,202.7 1583.0,231.4 1583.7,203.3 1584.3,234.3 1585.0,200.9 1585.7,243.8 1586.3,204.1 1587.0,248.2 1587.9,204.5 1588.8,234.4 1589.7,191.8 1590.5,236.4 1591.4,192.0 1592.3,240.1 1593.2,207.0 1594.1,241.7 1595.0,207.7 1595.8,242.5 1596.7,207.7 1597.6,239.1 1598.5,210.3 1599.4,249.7 1600.3,212.6 1601.2,244.8 1602.0,209.0 1602.9,245.3 1603.8,216.3 1604.7,248.6 1605.6,204.9 1606.5,250.7 1607.3,205.5 1608.2,250.2 1609.1,217.9 1610.0,251.0 1610.9,217.9 1611.9,252.2 1612.8,220.5 1613.8,253.7 1614.7,221.6 1615.6,259.1 1616.6,220.7 1617.5,255.3 1618.5,219.4 1619.4,256.0 1620.4,210.3 1621.3,258.0 1622.2,222.2 1623.2,254.7 1624.1,221.9 1625.1,259.8 1626.0,225.5 1626.9,266.6 1627.9,224.8 1628.8,260.9 1629.8,227.0 1630.7,271.0 1631.6,225.9 1632.6,262.2 1633.5,228.9 1634.5,261.5 1635.4,219.7 1636.4,262.6 1637.3,228.8 1638.2,262.8 1639.2,231.8 1640.1,263.8 1641.1,228.9 1642.0,259.7 1642.9,222.5 1643.9,261.7 1644.8,230.3 1645.7,262.2 1646.7,227.7 1647.6,271.6 1648.5,227.1 1649.5,264.5 1650.4,230.6 1651.3,266.7 1652.3,221.5 1653.2,274.4 1654.1,232.7 1655.1,266.9 1656.0,233.5 1656.9,267.7 1657.9,236.3 1658.8,272.1 1659.7,234.8 1660.7,267.8 1661.6,236.8 1662.5,267.6 1663.5,237.2 1664.4,267.3 1665.3,235.8 1666.3,271.2 1667.2,224.1 1668.1,283.5 1669.1,237.9 1670.0,271.9 1670.9,227.1 1671.9,275.6 1672.8,236.0 1673.7,277.5 1674.7,233.7 1675.6,275.8 1676.5,227.2 1677.4,273.7 1678.4,239.6 1679.3,272.8 1680.2,243.9 1681.2,287.6 1682.1,231.8 1683.0,277.0 1684.0,228.2 1684.9,277.2 1685.8,235.3 1686.8,276.7 1687.7,245.7 1688.6,277.6 1689.6,243.2 1690.5,277.5 1691.4,247.0 1692.3,289.7 1693.3,242.9 1694.2,280.3 1695.1,242.9 1696.1,280.8 1697.0,244.1 1698.0,278.2 1699.0,248.8 1699.9,279.2 1700.9,250.2 1701.9,280.7 1702.9,239.9 1703.9,280.5 1704.9,249.4 1705.8,283.5 1706.8,251.3 1707.8,284.2 1708.8,255.0 1709.8,287.6 1710.7,252.7 1711.7,286.2 1712.7,246.3 1713.7,284.2 1714.7,252.5 1715.7,287.7 1716.6,252.2 1717.6,285.6 1718.6,255.0 1719.6,286.9 1720.6,240.9 1721.5,286.2 1722.5,252.2 1723.5,287.2 1724.5,251.9 1725.5,285.7 1726.5,247.4 1727.4,286.6 1728.4,253.3 1729.4,285.9 1730.4,252.2 1731.4,288.0 1732.3,257.0 1733.3,288.0 1734.3,245.0 1735.3,287.6 1736.3,258.4 1737.3,290.3 1738.2,262.6 1739.2,301.5 1740.2,246.7 1741.2,292.8 1742.2,260.4 1743.1,296.4 1744.1,260.2 1745.1,294.9 1746.1,259.5 1747.1,295.0 1748.1,259.8 1749.0,292.7 1750.0,261.3 1751.0,296.2 1752.0,265.5 1752.9,295.2 1753.9,264.7 1754.9,293.7 1755.8,251.9 1756.8,301.9 1757.8,263.1 1758.7,298.0 1759.7,253.3 1760.6,295.2 1761.6,266.4 1762.6,295.1 1763.5,265.5 1764.5,300.2 1765.5,268.6 1766.4,300.6 1767.4,266.0 1768.4,301.4 1769.3,270.2 1770.3,304.8 1771.3,270.2 1772.2,302.3 1773.2,261.7 1774.2,303.8 1775.1,270.6 1776.1,306.1 1777.1,273.4 1778.0,312.6 1779.0,270.7 1779.9,306.5 1780.9,270.9 1781.9,302.1 1782.8,268.8 1783.8,300.3 1784.8,270.6 1785.7,303.7 1786.7,268.1 1787.7,302.0 1788.6,268.1 1789.6,301.4 1790.6,266.3 1791.5,316.6 1792.5,272.6 1793.5,302.6 1794.4,270.2 1795.4,306.4 1796.4,271.8 1797.3,305.6 1798.3,278.1 1799.2,306.7 1800.2,276.7 1801.2,308.6 1802.1,275.0 1803.1,309.0 1804.1,276.0 1805.0,308.8 1806.0,276.5 1807.0,318.2 1807.9,277.0 1808.9,310.8 1809.9,277.3 1810.8,309.0 1811.8,278.7 1812.8,312.5 1813.7,268.2 1814.7,314.3 1815.6,279.7 1816.6,310.9 1817.6,278.7 1818.5,310.6 1819.5,282.2 1820.5,311.3 1821.4,282.7 1822.4,310.9 1823.4,281.6 1824.3,314.3 1825.3,279.0 1826.3,312.8 1827.2,279.5 1828.2,323.5 1829.2,284.2 1830.1,313.0 1831.1,285.3 1832.1,315.9 1833.0,282.3 1834.0,316.7 1834.9,284.7 1835.9,321.1 1836.9,287.7 1837.8,333.5 1838.8,286.8 1839.8,331.8 1840.7,291.6 1841.7,325.0 1842.7,291.5 1843.6,323.8 1844.6,289.8 1845.6,322.2 1846.5,291.4 1847.5,319.7 1848.5,288.7 1849.4,329.8 1850.4,285.0 1851.4,320.6 1852.3,286.6 1853.3,328.6 1854.2,288.9 1855.2,318.1 1856.2,285.3 1857.1,319.2 1858.1,275.6 1859.1,321.5 1860.0,288.4 1861.0,323.8 1862.0,277.7 1863.0,322.7 1863.9,283.9 1864.9,333.6 1865.9,285.8 1866.9,334.8 1867.9,292.1 1868.9,324.3 1869.8,291.6 1870.8,325.1 1871.8,294.5 1872.8,327.1 1873.8,293.4 1874.8,326.0 1875.7,287.7 1876.7,329.9 1877.7,293.5 1878.7,329.4 1879.7,295.3 1880.6,330.6 1881.6,283.2 1882.6,327.1 1883.6,295.5 1884.6,331.2 1885.6,298.8 1886.5,331.5 1887.5,298.2 1888.5,333.2 1889.5,296.5 1890.5,330.8 1891.4,297.9 1892.4,334.1 1893.4,299.2 1894.4,331.5 1895.4,300.6 1896.4,334.3 1897.3,301.1 1898.3,330.2 1899.3,301.7 1900.3,333.4 1901.3,288.4 1902.2,332.2 1903.2,299.3 1904.2,334.7 1905.2,291.3 1906.2,345.3 1907.2,300.9 1908.1,332.1 1909.1,301.2 1910.1,333.6 1911.1,300.5 1912.1,335.1 1913.1,303.2 1914.0,333.1 1915.0,300.4 1916.0,336.7 1917.0,302.3 1918.0,342.4 1918.9,301.9 1919.9,337.0 1920.9,300.0 1921.9,334.8 1922.9,302.4 1923.9,333.1 1924.8,300.8 1925.8,334.0 1926.8,300.9 1927.8,341.6 1928.8,306.3 1929.7,336.0 1930.7,306.5 1931.7,337.8 1932.7,296.6 1933.7,339.8 1934.7,299.2 1935.6,341.3 1936.6,307.4 1937.6,343.5 1938.6,308.5 1939.6,340.3 1940.5,299.4 1941.5,342.5 1942.5,298.9 1943.5,343.2 1944.5,307.7 1945.5,350.0 1946.4,310.1 1947.4,354.3 1948.4,309.9 1949.4,353.3 1950.4,310.8 1951.3,344.1 1952.3,311.4 1953.3,340.3 1954.3,310.1 1955.3,344.5 1956.3,312.6 1957.2,353.0 1958.2,302.1 1959.2,353.3 1960.2,311.2 1961.2,351.4 1962.1,310.4 1963.1,356.3 1964.1,314.1 1965.1,342.5 1966.1,311.4 1967.1,347.1 1968.0,310.1 1969.0,344.3 1970.0,311.3 1971.0,345.0 1972.0,310.6 1973.0,347.4 1974.0,312.8 1975.0,349.5 1976.0,315.7 1977.0,346.7 1978.0,308.2 1979.0,346.3 1980.0,308.8 1981.0,350.5 1982.0,315.5 1983.0,348.1 1984.0,315.5 1985.0,350.6 1986.0,318.5 1987.0,359.9 1988.0,319.6 1989.0,348.1 1990.0,316.2 1991.0,348.7 1992.0,319.1 1993.0,348.1 1994.0,316.3 1995.0,352.5 1996.0,312.5 1997.0,352.4 1998.0,307.6 1999.0,352.5 2000.0,318.4 2001.0,353.3 2002.0,319.7 2003.0,352.0 2004.0,320.2 2005.0,351.5 2006.0,320.7 2007.0,354.8 2008.0,321.6 2008.6,351.0 2009.3,321.8 2009.9,352.4 2010.5,322.1 2011.2,363.9 2011.8,323.1 2012.5,357.5 2013.1,327.2 2013.7,372.0 2014.4,328.9 2015.0,363.7 2016.0,332.2 2017.0,362.4 2018.0,333.4 2019.0,366.3 2020.0,334.1 2021.0,366.9 2022.0,330.3 2023.0,367.0 2024.0,334.2 2025.0,365.2 2026.0,331.3 2027.0,367.7 2028.0,333.6 2029.0,364.5 2030.0,330.0 2030.9,377.6 2031.9,332.3 2032.8,367.2 2033.8,323.1 2034.7,366.7 2035.6,336.4 2036.6,369.6 2037.5,333.8 2038.4,369.8 2039.4,333.6 2040.3,365.8 2041.2,334.5 2042.2,369.4 2043.1,333.2 2044.1,364.7 2045.0,336.7 2045.9,365.7 2046.8,335.5 2047.6,365.7 2048.5,323.2 2049.4,363.5 2050.2,333.5 2051.1,363.0 2052.0,330.0 2052.9,363.3 2053.9,332.6 2054.8,363.6 2055.8,320.8 2056.7,359.0 2057.2,335.8 2057.8,363.5 2058.3,332.3 2058.8,374.3 2059.3,338.0 2059.9,366.4 2060.4,336.1 2060.9,366.9 2061.5,330.2 2062.0,368.7 2062.5,340.9 2063.0,370.2 2063.5,343.4 2064.0,370.5 2064.5,342.1 2065.0,371.4 2065.4,338.7 2065.9,373.8 2066.4,345.5 2066.9,375.0 2067.4,349.7 2067.9,375.5 2068.4,348.8 2068.9,378.9 2069.4,351.2 2069.8,378.4 2070.3,340.5 2070.8,380.0 2071.3,356.5 2071.8,385.1 2072.3,358.5 2072.8,386.6 2073.2,359.5 2073.7,384.7 2074.2,358.5 2074.7,390.3 2075.2,361.3 2075.7,390.2 2076.1,366.9 2076.6,391.7 2077.1,365.2 2077.6,396.4 2078.1,362.0 2078.6,399.0 2079.0,372.4 2079.5,398.0 2080.0,371.0 2080.6,402.1 2081.2,371.5 2081.9,405.0 2082.5,370.2 2083.1,419.5 2083.7,367.4 2084.3,409.0 2085.0,378.3 2085.6,409.0 2086.2,377.7 2086.8,410.5 2087.5,381.8 2088.1,415.2 2088.7,382.4 2089.3,417.1 2089.9,381.6 2090.6,414.2 2091.2,382.1 2091.8,416.8 2092.4,383.2 2093.1,419.5 2093.7,383.2 2094.4,418.7 2095.0,384.4 2095.7,433.1 2096.3,388.7 2097.0,425.0 2097.6,390.5 2098.2,426.4 2098.9,393.4 2099.5,425.7 2100.2,397.5 2100.8,429.6 2101.5,394.7 2102.1,431.3 2102.8,385.2 2103.4,432.2 2104.1,400.6 2104.8,432.0 2105.4,400.1 2106.1,434.7 2106.8,403.7 2107.5,441.7 2108.2,403.3 2108.9,437.8 2109.5,406.4 2110.2,439.1 2110.9,407.8 2111.6,456.0 2112.3,408.6 2113.0,443.9 2113.6,408.7 2114.3,451.5 2115.0,411.2 2115.8,442.3 2116.6,403.5 2117.4,442.4 2118.1,414.3 2118.9,443.1 2119.7,411.5 2120.5,447.7 2121.3,413.5 2122.1,452.9 2122.9,415.4 2123.7,449.8 2124.4,409.6 2125.2,449.9 2126.0,412.0 2126.8,450.0 2127.6,417.8 2128.5,454.1 2129.3,421.7 2130.1,455.3 2131.0,420.3 2131.8,465.9 2132.7,421.6 2133.5,458.6 2134.3,422.4 2135.2,458.9 2136.0,423.1 2136.8,458.4 2137.7,414.6 2138.5,456.3 2139.5,423.8 2140.4,460.8 2141.4,426.0 2142.3,462.2 2143.3,415.7 2144.2,459.0 2145.2,418.9 2146.2,460.1 2147.1,429.5 2148.1,472.3 2149.0,420.1 2150.0,464.2 2150.9,431.5 2151.8,463.1 2152.7,435.8 2153.5,464.9 2154.4,438.1 2155.3,477.1 2156.2,435.2 2157.1,472.4 2157.9,438.0 2158.8,473.2 2159.7,442.3 2160.6,474.6" stroke="#3F4D66" stroke-width="6.5" opacity="0.2"/>
<polyline points="1488.4,-28.6 1488.4,-30.0 1488.4,-27.1 1488.4,-28.3 1488.4,-25.1 1488.4,-26.3 1488.4,-23.6 1488.4,-24.5 1488.4,-22.0 1488.4,-22.8 1488.4,-19.7 1488.5,-20.9 1488.5,-17.9 1488.5,-19.2 1488.5,-16.4 1488.5,-17.3 1488.5,-14.8 1488.5,-15.6 1488.5,-12.8 1488.5,-13.8 1488.5,-10.9 1488.5,-11.9 1488.5,-8.9 1488.5,-10.2 1488.5,-7.4 1488.5,-8.3 1488.5,-5.6 1488.5,-6.6 1488.5,-3.9 1488.5,-5.0 1488.5,-2.1 1488.6,-2.8 1488.6,-0.2 1488.6,-1.1 1488.6,1.6 1488.6,0.7 1488.6,3.3 1488.6,2.5 1488.6,5.1 1488.6,4.2 1488.6,7.0 1488.6,5.9 1488.6,8.8 1488.6,8.0 1488.6,10.8 1488.6,9.8 1488.6,12.7 1488.6,11.0 1488.6,14.2 1488.6,13.3 1488.6,16.0 1488.7,15.0 1488.7,17.8 1488.7,17.0 1488.7,20.0 1488.7,18.8 1488.7,21.7 1488.7,20.5 1488.7,23.2 1488.7,22.0 1488.7,25.0 1488.7,24.1 1488.8,26.8 1488.9,26.0 1489.0,28.5 1489.1,27.2 1489.2,30.2 1489.3,29.5 1489.4,32.5 1489.5,31.2 1489.6,33.8 1489.7,32.9 1489.8,35.6 1489.9,34.7 1490.0,37.9 1490.1,36.6 1490.2,39.1 1490.3,38.1 1490.4,40.9 1490.5,40.1 1490.6,42.7 1490.7,42.0 1490.8,44.5 1490.9,43.7 1491.0,46.4 1491.2,45.2 1491.3,48.2 1491.4,46.9 1491.5,50.1 1491.6,49.2 1491.7,52.0 1491.8,40.2 1492.4,60.8 1492.9,41.1 1493.5,59.0 1494.0,38.4 1494.6,67.5 1495.1,45.3 1495.7,64.9 1496.2,42.5 1496.8,65.4 1497.5,43.3 1498.2,66.1 1498.9,50.7 1499.5,68.4 1500.2,51.4 1500.9,68.6 1501.6,51.2 1502.3,68.9 1502.5,55.7 1502.7,75.5 1502.9,57.8 1503.1,73.0 1503.3,58.1 1503.5,74.8 1503.7,61.2 1503.9,77.4 1504.0,63.0 1504.2,78.5 1504.4,62.3 1504.6,80.2 1504.8,65.4 1505.0,84.5 1505.2,63.1 1505.4,84.2 1505.6,69.9 1505.8,88.9 1506.0,70.5 1506.2,87.5 1506.4,72.6 1506.5,88.9 1506.7,74.7 1506.9,92.6 1507.1,76.0 1507.3,92.8 1507.5,78.1 1507.7,93.9 1507.9,77.4 1508.0,95.1 1508.2,82.3 1508.4,98.4 1508.6,81.7 1508.8,104.3 1509.1,87.7 1509.3,103.3 1509.6,89.5 1509.8,102.5 1510.1,83.8 1510.4,103.4 1510.6,89.2 1510.9,103.3 1511.1,85.6 1511.4,104.9 1511.7,90.8 1511.9,106.8 1512.2,94.5 1512.5,109.5 1512.7,95.5 1513.0,111.3 1513.2,97.7 1513.5,114.1 1513.8,99.3 1514.0,120.0 1514.3,100.8 1514.5,121.1 1514.8,105.0 1515.1,121.8 1515.4,108.5 1515.7,124.6 1516.0,109.9 1516.3,126.0 1516.6,111.9 1516.9,128.4 1517.1,114.2 1517.4,128.8 1517.7,110.5 1518.0,135.2 1518.3,117.1 1518.6,132.9 1518.9,115.2 1519.2,130.4 1519.5,112.4 1519.8,131.5 1520.1,117.3 1520.4,132.7 1520.7,119.3 1521.0,140.1 1521.2,116.9 1521.5,140.5 1521.8,120.4 1522.1,141.0 1522.4,128.3 1522.7,144.0 1523.0,131.0 1523.3,146.9 1523.7,132.5 1524.1,147.1 1524.5,134.1 1525.0,149.0 1525.4,132.3 1525.8,150.2 1526.2,133.0 1526.6,149.7 1527.0,135.9 1527.4,154.6 1527.8,136.5 1528.3,153.7 1528.7,140.4 1529.1,156.6 1529.5,142.7 1529.9,159.8 1530.3,137.8 1530.7,157.1 1531.2,143.0 1531.6,158.3 1532.0,145.0 1532.4,160.4 1532.8,145.5 1533.2,162.3 1533.6,144.7 1534.0,163.0 1534.5,149.0 1534.9,164.5 1535.3,150.3 1535.7,166.4 1536.1,151.6 1536.5,167.9 1536.9,150.3 1537.3,168.3 1537.8,152.0 1538.2,171.3 1538.6,156.1 1539.0,173.0 1539.6,156.4 1540.3,175.2 1540.9,158.1 1541.5,175.6 1542.2,158.4 1542.8,176.1 1543.4,160.9 1544.1,181.3 1544.7,165.2 1545.3,181.6 1545.9,166.1 1546.6,185.0 1547.2,167.1 1547.8,186.2 1548.5,169.5 1549.1,186.9 1549.7,170.9 1550.4,188.2 1551.0,171.1 1551.6,189.5 1552.2,174.0 1552.9,193.8 1553.5,174.7 1554.1,196.7 1554.7,176.5 1555.3,193.2 1556.0,171.4 1556.6,196.2 1557.2,178.5 1557.8,195.9 1558.4,180.4 1559.1,199.4 1559.7,182.3 1560.3,205.0 1560.9,184.1 1561.5,200.4 1562.2,181.7 1562.8,198.7 1563.4,178.4 1564.0,199.4 1564.5,183.1 1565.1,200.5 1565.6,183.7 1566.2,203.2 1566.7,181.8 1567.3,204.9 1567.8,186.8 1568.4,205.9 1568.9,187.7 1569.5,207.7 1570.0,190.5 1570.6,210.0 1571.1,189.9 1571.7,211.7 1572.2,195.1 1572.8,216.6 1573.3,196.7 1573.9,213.4 1574.4,196.7 1575.0,218.9 1575.6,199.8 1576.2,216.5 1576.8,199.4 1577.4,221.3 1578.0,200.6 1578.6,220.7 1579.2,203.9 1579.8,220.8 1580.4,201.1 1581.0,221.6 1581.6,198.3 1582.2,221.0 1582.8,205.1 1583.4,222.8 1584.0,208.8 1584.6,227.6 1585.2,210.3 1585.8,233.4 1586.4,207.2 1587.0,231.2 1587.8,212.9 1588.6,236.3 1589.4,212.6 1590.2,230.9 1591.0,213.0 1591.8,230.8 1592.6,209.2 1593.3,232.5 1594.1,215.3 1594.9,235.7 1595.7,216.7 1596.5,237.7 1597.3,217.9 1598.1,236.4 1598.9,215.2 1599.7,238.7 1600.5,220.6 1601.3,239.3 1602.1,221.3 1602.9,239.1 1603.7,223.2 1604.4,240.6 1605.2,224.0 1606.0,242.0 1606.8,224.5 1607.6,240.9 1608.4,221.4 1609.2,242.4 1610.0,223.4 1610.8,242.5 1611.7,224.9 1612.5,241.7 1613.4,226.0 1614.2,244.3 1615.1,224.1 1615.9,244.1 1616.7,226.6 1617.6,245.2 1618.4,224.4 1619.3,251.6 1620.1,223.8 1620.9,247.3 1621.8,228.8 1622.6,249.6 1623.5,229.8 1624.3,249.6 1625.2,223.9 1626.0,246.0 1626.8,229.1 1627.7,249.4 1628.5,227.1 1629.4,245.7 1630.2,224.9 1631.1,246.5 1631.9,229.7 1632.7,248.1 1633.6,226.8 1634.4,254.1 1635.3,231.4 1636.1,249.1 1636.9,232.0 1637.8,249.8 1638.6,232.3 1639.5,254.3 1640.3,233.5 1641.2,255.5 1642.0,235.1 1642.8,252.1 1643.7,234.1 1644.5,253.6 1645.4,235.1 1646.2,252.3 1647.1,236.3 1647.9,258.8 1648.8,236.4 1649.6,254.5 1650.5,237.5 1651.3,255.5 1652.2,237.4 1653.0,256.3 1653.9,239.4 1654.7,259.5 1655.6,239.0 1656.4,264.9 1657.3,244.9 1658.1,263.7 1659.0,245.7 1659.8,263.3 1660.7,246.7 1661.5,263.8 1662.4,246.8 1663.2,265.5 1664.1,247.5 1664.9,269.8 1665.8,249.2 1666.6,266.7 1667.5,248.9 1668.3,272.4 1669.2,248.5 1670.0,264.8 1670.8,245.4 1671.7,263.2 1672.5,241.5 1673.4,264.0 1674.2,245.5 1675.1,263.8 1675.9,244.8 1676.8,264.8 1677.6,246.8 1678.4,266.2 1679.3,249.4 1680.1,267.5 1681.0,249.9 1681.8,266.7 1682.7,250.0 1683.5,267.2 1684.3,250.7 1685.2,267.7 1686.0,250.2 1686.9,268.0 1687.7,250.2 1688.6,270.9 1689.4,251.1 1690.2,270.2 1691.1,253.0 1691.9,268.9 1692.8,254.0 1693.6,278.9 1694.5,257.5 1695.3,274.2 1696.2,257.4 1697.0,277.4 1697.9,258.4 1698.8,277.9 1699.7,259.8 1700.5,283.0 1701.4,256.1 1702.3,277.2 1703.2,261.1 1704.1,281.8 1705.0,257.1 1705.9,277.8 1706.7,254.3 1707.6,276.7 1708.5,259.2 1709.4,277.8 1710.3,260.3 1711.2,277.0 1712.0,258.8 1712.9,280.5 1713.8,257.5 1714.7,280.5 1715.6,259.6 1716.5,280.6 1717.4,263.6 1718.2,286.1 1719.1,263.6 1720.0,286.1 1720.9,260.7 1721.8,288.4 1722.7,265.8 1723.6,284.6 1724.4,266.3 1725.3,284.2 1726.2,263.1 1727.1,286.2 1728.0,263.0 1728.9,282.9 1729.8,264.2 1730.6,283.3 1731.5,261.6 1732.4,282.0 1733.3,266.6 1734.2,282.8 1735.1,260.8 1736.0,285.1 1736.8,265.0 1737.7,285.2 1738.6,268.0 1739.5,286.8 1740.4,263.5 1741.3,285.5 1742.1,269.2 1743.0,287.1 1743.9,270.3 1744.8,287.5 1745.7,269.6 1746.6,286.8 1747.5,269.8 1748.3,290.9 1749.2,268.5 1750.1,287.9 1751.0,267.2 1751.9,283.9 1752.7,267.7 1753.6,287.4 1754.4,265.0 1755.3,290.8 1756.2,267.4 1757.0,285.6 1757.9,267.4 1758.7,291.7 1759.6,264.8 1760.5,289.5 1761.3,273.0 1762.2,292.1 1763.0,274.9 1763.9,292.5 1764.8,269.6 1765.6,291.9 1766.5,275.2 1767.3,294.4 1768.2,275.2 1769.0,294.2 1769.9,270.6 1770.8,294.3 1771.6,274.9 1772.5,294.6 1773.3,274.6 1774.2,292.1 1775.1,274.1 1775.9,294.9 1776.8,277.6 1777.6,297.1 1778.5,278.3 1779.4,300.6 1780.2,280.2 1781.1,300.6 1781.9,281.7 1782.8,299.5 1783.7,281.7 1784.5,304.9 1785.4,281.8 1786.2,297.9 1787.1,280.0 1788.0,297.8 1788.8,279.2 1789.7,298.7 1790.5,279.5 1791.4,298.1 1792.2,281.4 1793.1,300.4 1794.0,281.3 1794.8,298.7 1795.7,281.0 1796.5,299.6 1797.4,281.9 1798.3,303.9 1799.1,281.0 1800.0,304.1 1800.8,279.3 1801.7,298.8 1802.6,276.3 1803.4,299.9 1804.3,279.1 1805.1,299.8 1806.0,282.9 1806.9,304.7 1807.7,283.9 1808.6,301.0 1809.5,283.6 1810.4,305.4 1811.2,283.9 1812.1,301.3 1813.0,285.4 1813.9,302.8 1814.7,282.2 1815.6,301.7 1816.5,282.9 1817.3,305.3 1818.2,286.4 1819.1,309.4 1820.0,282.9 1820.8,304.0 1821.7,286.1 1822.6,305.4 1823.5,286.6 1824.3,304.7 1825.2,285.6 1826.1,309.2 1827.0,289.1 1827.8,311.2 1828.7,292.1 1829.6,311.2 1830.4,291.0 1831.3,309.8 1832.2,287.1 1833.1,315.5 1833.9,291.4 1834.8,312.0 1835.7,294.5 1836.6,311.3 1837.4,294.9 1838.3,317.9 1839.2,292.4 1840.0,312.2 1840.9,295.1 1841.8,312.7 1842.7,295.3 1843.5,312.3 1844.4,291.6 1845.3,312.4 1846.2,291.9 1847.0,318.3 1847.9,296.0 1848.8,314.4 1849.7,292.1 1850.5,313.0 1851.4,297.1 1852.3,314.8 1853.1,296.6 1854.0,314.9 1854.9,292.5 1855.8,313.5 1856.6,293.8 1857.5,315.1 1858.4,297.1 1859.3,316.2 1860.1,298.0 1861.0,315.6 1861.9,299.0 1862.7,317.6 1863.6,298.1 1864.5,318.5 1865.4,298.0 1866.2,316.1 1867.1,292.9 1868.0,321.7 1868.9,299.5 1869.7,316.8 1870.6,299.9 1871.5,321.7 1872.3,297.3 1873.2,317.0 1874.1,302.0 1875.0,320.3 1875.8,299.9 1876.7,319.9 1877.6,303.2 1878.5,322.1 1879.3,299.2 1880.2,321.8 1881.1,305.0 1882.0,327.1 1882.8,301.2 1883.7,327.4 1884.6,304.5 1885.4,326.9 1886.3,303.6 1887.2,326.2 1888.1,299.6 1888.9,326.4 1889.8,304.4 1890.7,324.2 1891.6,305.7 1892.4,320.9 1893.3,304.5 1894.2,326.3 1895.0,304.3 1895.9,323.0 1896.8,305.9 1897.7,323.0 1898.5,302.0 1899.4,322.5 1900.3,302.7 1901.2,324.0 1902.0,305.4 1902.9,324.9 1903.8,306.3 1904.7,323.7 1905.5,307.5 1906.4,324.1 1907.3,307.5 1908.1,325.5 1909.0,307.2 1909.9,325.3 1910.8,305.2 1911.6,326.5 1912.5,311.2 1913.4,332.0 1914.3,312.6 1915.1,330.5 1916.0,310.6 1916.9,330.6 1917.8,307.9 1918.7,335.1 1919.5,308.7 1920.4,332.7 1921.3,314.6 1922.2,332.6 1923.1,314.3 1924.0,331.7 1924.9,316.2 1925.7,335.2 1926.6,316.9 1927.5,333.0 1928.4,315.9 1929.3,339.3 1930.2,310.1 1931.0,337.0 1931.9,314.5 1932.8,332.6 1933.7,313.2 1934.6,331.6 1935.5,309.0 1936.4,331.1 1937.2,315.1 1938.1,331.4 1939.0,311.2 1939.9,333.0 1940.8,311.7 1941.7,334.2 1942.6,312.9 1943.4,341.6 1944.3,319.5 1945.2,336.2 1946.1,314.7 1947.0,338.0 1947.9,320.4 1948.8,336.1 1949.6,318.7 1950.5,336.6 1951.4,319.5 1952.3,337.3 1953.2,319.9 1954.1,335.8 1955.0,317.6 1955.8,334.5 1956.7,316.1 1957.6,334.1 1958.5,312.7 1959.4,335.0 1960.3,317.2 1961.1,334.3 1962.0,318.1 1962.9,336.5 1963.8,318.7 1964.7,336.6 1965.6,319.8 1966.5,338.1 1967.3,321.2 1968.2,337.7 1969.1,320.9 1970.0,337.8 1970.9,320.8 1971.8,342.8 1972.6,321.8 1973.5,337.8 1974.4,317.7 1975.3,343.2 1976.2,320.4 1977.1,339.0 1977.9,324.0 1978.8,342.3 1979.7,324.9 1980.6,341.5 1981.5,325.6 1982.4,342.4 1983.2,324.9 1984.1,343.0 1985.0,324.3 1985.9,341.7 1986.8,323.9 1987.6,341.3 1988.5,318.8 1989.4,341.0 1990.3,320.4 1991.2,341.9 1992.1,323.8 1992.9,344.5 1993.8,324.5 1994.7,341.8 1995.6,323.7 1996.5,342.2 1997.4,323.3 1998.2,344.7 1999.1,323.4 2000.0,342.4 2000.9,324.0 2001.8,342.3 2002.7,325.5 2003.6,342.8 2004.4,325.4 2005.3,342.1 2006.2,324.9 2007.1,344.5 2008.0,326.4 2008.6,346.7 2009.2,330.1 2009.8,352.9 2010.3,325.5 2010.9,349.3 2011.5,333.2 2012.1,354.0 2012.7,335.7 2013.2,352.4 2013.8,332.2 2014.4,354.9 2015.0,336.5 2015.9,354.9 2016.8,333.8 2017.6,358.7 2018.5,337.5 2019.4,354.6 2020.3,339.4 2021.2,356.9 2022.1,339.7 2022.9,356.7 2023.8,341.2 2024.7,363.6 2025.6,335.0 2026.5,357.3 2027.4,340.3 2028.2,359.3 2029.1,341.9 2030.0,358.2 2030.9,341.5 2031.8,360.3 2032.6,341.6 2033.5,359.7 2034.4,343.7 2035.3,365.2 2036.2,338.1 2037.1,359.7 2037.9,342.9 2038.8,358.8 2039.7,340.7 2040.6,360.9 2041.5,339.1 2042.4,358.3 2043.2,339.1 2044.1,359.2 2045.0,343.0 2045.8,359.5 2046.6,343.8 2047.3,360.0 2048.1,343.0 2048.9,362.0 2049.7,337.1 2050.4,359.1 2051.2,340.6 2052.0,357.7 2052.8,340.5 2053.6,356.8 2054.3,338.4 2055.1,353.7 2055.9,335.9 2056.7,352.3 2057.1,334.4 2057.6,353.2 2058.0,339.1 2058.5,355.9 2058.9,341.6 2059.3,359.6 2059.8,342.6 2060.2,358.8 2060.7,344.1 2061.1,359.7 2061.6,345.6 2062.0,361.2 2062.5,348.2 2062.9,363.9 2063.4,350.0 2063.8,365.3 2064.3,351.2 2064.7,368.6 2065.2,353.6 2065.7,371.9 2066.1,355.1 2066.6,368.7 2067.0,350.9 2067.5,369.5 2067.9,355.6 2068.4,370.9 2068.8,356.8 2069.3,377.4 2069.7,359.7 2070.1,374.9 2070.5,360.0 2071.0,375.6 2071.4,358.5 2071.8,377.1 2072.3,365.1 2072.7,385.1 2073.1,368.1 2073.6,383.6 2074.0,369.1 2074.4,386.6 2074.8,372.7 2075.3,391.9 2075.7,369.3 2076.1,388.8 2076.6,376.0 2077.0,394.3 2077.4,376.2 2077.9,391.9 2078.3,378.9 2078.7,394.2 2079.1,379.7 2079.6,395.5 2080.0,374.8 2080.6,399.3 2081.1,376.4 2081.7,400.9 2082.2,380.2 2082.8,398.8 2083.4,378.8 2083.9,403.8 2084.5,383.8 2085.1,400.3 2085.6,383.8 2086.2,403.8 2086.7,386.0 2087.3,404.6 2087.9,386.8 2088.4,406.4 2089.0,389.1 2089.6,410.4 2090.1,389.6 2090.7,412.2 2091.2,389.0 2091.8,412.8 2092.4,391.4 2093.0,408.7 2093.5,390.7 2094.1,411.5 2094.7,393.3 2095.3,413.4 2095.9,395.8 2096.4,414.2 2097.0,397.9 2097.6,417.8 2098.2,398.3 2098.8,417.0 2099.3,399.2 2099.9,417.8 2100.5,400.9 2101.1,419.0 2101.7,402.9 2102.2,419.2 2102.8,400.0 2103.4,423.5 2104.0,400.5 2104.6,425.8 2105.2,403.5 2105.8,427.8 2106.5,411.5 2107.1,428.3 2107.7,409.4 2108.3,434.3 2108.9,414.3 2109.5,431.3 2110.1,415.8 2110.7,433.1 2111.3,413.4 2111.9,436.6 2112.6,415.1 2113.2,433.1 2113.8,415.1 2114.4,434.8 2115.0,415.5 2115.7,435.2 2116.4,413.3 2117.1,437.1 2117.8,418.1 2118.5,442.6 2119.2,422.7 2119.9,439.7 2120.6,419.0 2121.2,440.6 2121.9,419.4 2122.6,445.3 2123.3,421.1 2124.0,443.2 2124.7,427.5 2125.4,445.4 2126.1,425.5 2126.8,448.9 2127.6,430.1 2128.4,452.0 2129.1,425.4 2129.9,447.7 2130.7,431.2 2131.5,456.2 2132.3,434.6 2133.0,451.8 2133.8,435.4 2134.6,453.2 2135.4,432.5 2136.2,455.3 2136.9,438.0 2137.7,455.6 2138.5,437.9 2139.3,455.6 2140.1,438.6 2141.0,462.1 2141.8,438.0 2142.6,456.1 2143.4,438.1 2144.2,456.1 2145.1,439.6 2145.9,460.7 2146.7,439.0 2147.5,462.6 2148.4,437.1 2149.2,457.0 2150.0,435.8 2150.8,462.6 2151.5,437.3 2152.3,458.9 2153.0,436.8 2153.8,463.9 2154.5,444.4 2155.3,463.0 2156.1,445.9 2156.8,464.1 2157.6,447.6 2158.3,465.4 2159.1,447.9 2159.8,470.1 2160.6,449.9" stroke="#3F4D66" stroke-width="5.5"/>
<polyline points="1489.0,-27.1 1489.0,-30.9 1489.0,-25.9 1489.0,-28.7 1489.0,-23.9 1489.0,-27.7 1489.0,-22.2 1489.0,-24.8 1489.0,-20.3 1489.0,-22.9 1489.1,-18.0 1489.1,-21.6 1489.1,-16.0 1489.1,-18.8 1489.1,-13.9 1489.1,-16.8 1489.1,-11.0 1489.1,-14.9 1489.1,-10.0 1489.1,-12.7 1489.1,-7.0 1489.1,-10.9 1489.1,-6.2 1489.1,-9.1 1489.1,-4.2 1489.1,-6.8 1489.1,-1.9 1489.1,-5.0 1489.2,-0.2 1489.2,-2.9 1489.2,1.7 1489.2,-0.9 1489.2,5.1 1489.2,0.9 1489.2,6.0 1489.2,3.3 1489.2,8.0 1489.2,5.0 1489.2,10.5 1489.2,7.2 1489.2,12.0 1489.2,9.0 1489.2,14.1 1489.2,11.0 1489.2,16.1 1489.2,12.9 1489.3,17.9 1489.3,14.9 1489.3,20.4 1489.3,17.1 1489.3,22.0 1489.3,19.0 1489.3,23.9 1489.3,21.1 1489.3,26.0 1489.3,23.2 1489.4,27.8 1489.5,25.1 1489.6,29.9 1489.8,27.0 1489.9,31.9 1490.0,28.3 1490.1,33.8 1490.2,30.8 1490.3,36.1 1490.4,32.9 1490.5,38.0 1490.7,34.6 1490.8,40.1 1490.9,37.1 1491.0,55.0 1491.2,23.7 1491.5,60.2 1491.8,27.2 1492.0,68.0 1492.2,28.2 1492.5,69.8 1492.8,30.2 1493.0,64.0 1493.2,33.4 1493.5,67.4 1493.8,34.4 1494.0,79.4 1494.6,31.3 1495.2,72.4 1495.9,35.0 1496.5,73.0 1497.1,37.1 1497.8,75.5 1498.4,38.6 1499.0,76.9 1499.8,39.1 1500.6,78.8 1501.4,40.3 1502.1,79.3 1502.9,40.4 1503.7,80.5 1504.5,44.1 1504.7,80.3 1504.9,46.3 1505.2,82.2 1505.4,47.6 1505.6,91.8 1505.8,50.6 1506.0,85.5 1506.2,52.2 1506.5,88.6 1506.7,56.3 1506.9,90.3 1507.1,49.5 1507.3,89.8 1507.6,59.7 1507.8,93.1 1508.0,60.9 1508.2,94.5 1508.4,64.1 1508.6,102.7 1508.9,64.6 1509.1,106.1 1509.3,67.0 1509.5,100.2 1509.7,70.2 1509.9,102.5 1510.1,72.6 1510.4,104.5 1510.6,74.7 1510.8,115.9 1511.0,76.2 1511.3,111.8 1511.6,79.1 1511.9,115.4 1512.1,83.4 1512.4,115.2 1512.7,82.5 1513.0,115.2 1513.3,83.9 1513.6,117.1 1513.9,84.5 1514.1,116.7 1514.4,85.6 1514.7,119.9 1515.0,79.0 1515.3,120.2 1515.6,89.5 1515.9,130.3 1516.1,91.1 1516.4,124.0 1516.7,92.8 1517.0,125.0 1517.3,85.4 1517.7,127.8 1518.0,94.7 1518.3,128.5 1518.6,90.2 1519.0,132.0 1519.3,101.1 1519.6,142.5 1519.9,103.1 1520.3,136.7 1520.6,103.5 1520.9,140.3 1521.2,107.0 1521.6,141.2 1521.9,107.4 1522.2,145.6 1522.6,109.4 1522.9,143.0 1523.2,102.4 1523.5,144.2 1523.9,107.7 1524.2,149.9 1524.5,115.4 1524.8,153.2 1525.2,121.2 1525.5,156.6 1525.9,123.9 1526.2,157.2 1526.6,125.5 1526.9,158.7 1527.3,124.7 1527.6,158.2 1528.0,120.2 1528.3,160.2 1528.7,121.9 1529.1,161.7 1529.4,121.5 1529.8,160.0 1530.1,128.6 1530.5,162.0 1530.8,126.0 1531.2,165.0 1531.5,134.7 1531.9,167.3 1532.2,135.6 1532.6,172.5 1533.0,137.8 1533.3,173.1 1533.7,140.3 1534.0,172.8 1534.4,143.4 1534.7,185.6 1535.1,144.8 1535.4,177.2 1535.8,144.8 1536.2,178.6 1536.5,139.8 1536.9,181.8 1537.2,150.4 1537.6,185.3 1537.9,155.3 1538.3,188.2 1538.6,157.6 1539.0,204.2 1539.6,155.9 1540.1,196.8 1540.7,158.4 1541.3,195.7 1541.9,160.7 1542.4,198.0 1543.0,162.5 1543.6,200.6 1544.1,161.8 1544.7,203.1 1545.3,166.1 1545.9,204.2 1546.4,167.3 1547.0,206.3 1547.6,167.5 1548.1,205.3 1548.7,166.4 1549.3,206.2 1549.9,171.2 1550.4,207.1 1551.0,169.1 1551.7,210.5 1552.4,174.4 1553.1,219.4 1553.8,175.8 1554.4,222.1 1555.1,170.9 1555.8,217.1 1556.5,177.2 1557.2,216.1 1557.9,178.8 1558.6,220.2 1559.3,182.1 1560.0,220.9 1560.6,181.7 1561.3,221.4 1562.0,182.9 1562.7,222.9 1563.4,182.2 1564.0,222.1 1564.6,184.0 1565.2,227.5 1565.8,178.8 1566.5,226.8 1567.1,189.2 1567.7,231.1 1568.3,186.0 1568.9,232.1 1569.5,191.2 1570.1,231.4 1570.7,184.1 1571.3,233.0 1571.9,186.3 1572.6,234.2 1573.2,195.1 1573.8,233.9 1574.4,196.4 1575.0,234.6 1575.7,194.9 1576.3,235.1 1577.0,197.9 1577.7,238.9 1578.3,199.0 1579.0,238.8 1579.7,201.4 1580.3,254.0 1581.0,194.8 1581.7,243.5 1582.3,209.8 1583.0,245.8 1583.7,211.4 1584.3,258.2 1585.0,210.0 1585.7,258.8 1586.3,211.1 1587.0,252.9 1587.9,213.3 1588.8,254.0 1589.7,216.0 1590.5,258.8 1591.4,214.9 1592.3,254.0 1593.2,215.9 1594.1,260.0 1595.0,216.3 1595.8,260.5 1596.7,219.7 1597.6,255.9 1598.5,221.2 1599.4,258.4 1600.3,220.1 1601.2,260.2 1602.0,221.8 1602.9,259.1 1603.8,224.7 1604.7,260.4 1605.6,216.6 1606.5,265.0 1607.3,224.3 1608.2,270.4 1609.1,227.6 1610.0,264.3 1610.9,214.2 1611.9,263.7 1612.8,222.8 1613.8,263.1 1614.7,224.6 1615.6,263.3 1616.6,224.5 1617.5,266.2 1618.5,227.9 1619.4,263.7 1620.4,229.8 1621.3,268.7 1622.2,228.5 1623.2,275.1 1624.1,219.9 1625.1,271.2 1626.0,233.7 1626.9,272.3 1627.9,232.1 1628.8,272.8 1629.8,234.4 1630.7,274.6 1631.6,231.8 1632.6,271.7 1633.5,230.6 1634.5,270.5 1635.4,232.7 1636.4,271.6 1637.3,231.0 1638.2,271.8 1639.2,222.4 1640.1,282.4 1641.1,232.0 1642.0,273.5 1642.9,237.3 1643.9,274.2 1644.8,237.3 1645.7,277.2 1646.7,240.2 1647.6,286.5 1648.5,239.1 1649.5,279.1 1650.4,231.3 1651.3,280.7 1652.3,240.1 1653.2,279.5 1654.1,243.2 1655.1,279.2 1656.0,241.4 1656.9,288.0 1657.9,244.7 1658.8,290.2 1659.7,242.8 1660.7,281.1 1661.6,243.5 1662.5,290.7 1663.5,236.2 1664.4,282.4 1665.3,239.1 1666.3,284.8 1667.2,246.0 1668.1,285.9 1669.1,245.2 1670.0,286.8 1670.9,246.2 1671.9,286.3 1672.8,247.3 1673.7,289.5 1674.7,250.3 1675.6,289.2 1676.5,249.8 1677.4,287.7 1678.4,246.9 1679.3,288.0 1680.2,237.8 1681.2,289.9 1682.1,249.8 1683.0,291.0 1684.0,254.6 1684.9,290.4 1685.8,255.5 1686.8,294.2 1687.7,256.0 1688.6,295.9 1689.6,257.3 1690.5,299.9 1691.4,255.5 1692.3,293.8 1693.3,252.2 1694.2,295.6 1695.1,253.6 1696.1,296.1 1697.0,258.1 1698.0,296.3 1699.0,252.8 1699.9,299.2 1700.9,260.1 1701.9,298.7 1702.9,261.9 1703.9,309.9 1704.9,259.8 1705.8,308.1 1706.8,257.6 1707.8,295.7 1708.8,258.1 1709.8,298.4 1710.7,260.1 1711.7,306.3 1712.7,262.4 1713.7,300.6 1714.7,253.5 1715.7,303.5 1716.6,262.9 1717.6,303.2 1718.6,264.4 1719.6,298.6 1720.6,262.5 1721.5,298.9 1722.5,261.4 1723.5,303.3 1724.5,261.1 1725.5,297.8 1726.5,260.4 1727.4,299.1 1728.4,261.1 1729.4,302.1 1730.4,262.2 1731.4,298.8 1732.3,260.3 1733.3,302.0 1734.3,262.6 1735.3,301.6 1736.3,260.9 1737.3,303.6 1738.2,263.2 1739.2,304.8 1740.2,263.9 1741.2,305.5 1742.2,267.9 1743.1,307.1 1744.1,258.6 1745.1,305.8 1746.1,269.2 1747.1,308.2 1748.1,270.0 1749.0,306.4 1750.0,271.1 1751.0,320.1 1752.0,270.6 1752.9,318.2 1753.9,271.1 1754.9,310.2 1755.8,273.8 1756.8,311.2 1757.8,273.6 1758.7,313.3 1759.7,271.0 1760.6,313.4 1761.6,273.2 1762.6,315.6 1763.5,272.6 1764.5,321.0 1765.5,272.3 1766.4,311.3 1767.4,274.3 1768.4,311.6 1769.3,270.0 1770.3,309.8 1771.3,261.5 1772.2,312.3 1773.2,272.6 1774.2,310.6 1775.1,266.5 1776.1,314.8 1777.1,268.2 1778.0,315.5 1779.0,276.7 1779.9,314.5 1780.9,277.0 1781.9,318.4 1782.8,276.4 1783.8,315.9 1784.8,278.7 1785.7,315.8 1786.7,273.5 1787.7,317.7 1788.6,274.5 1789.6,319.2 1790.6,278.8 1791.5,328.8 1792.5,279.6 1793.5,322.0 1794.4,283.0 1795.4,321.4 1796.4,282.3 1797.3,323.0 1798.3,281.2 1799.2,324.1 1800.2,285.4 1801.2,324.8 1802.1,288.0 1803.1,325.8 1804.1,284.7 1805.0,328.5 1806.0,285.2 1807.0,322.7 1807.9,281.2 1808.9,320.7 1809.9,285.2 1810.8,326.4 1811.8,286.9 1812.8,328.0 1813.7,286.9 1814.7,327.9 1815.6,286.7 1816.6,325.7 1817.6,290.9 1818.5,327.7 1819.5,288.4 1820.5,336.7 1821.4,291.1 1822.4,329.1 1823.4,284.3 1824.3,328.1 1825.3,290.3 1826.3,329.3 1827.2,289.3 1828.2,330.7 1829.2,290.3 1830.1,328.5 1831.1,292.4 1832.1,333.5 1833.0,291.4 1834.0,337.5 1834.9,293.1 1835.9,331.6 1836.9,291.2 1837.8,332.5 1838.8,293.2 1839.8,331.9 1840.7,295.1 1841.7,332.5 1842.7,293.9 1843.6,337.8 1844.6,292.7 1845.6,331.6 1846.5,293.4 1847.5,332.7 1848.5,293.3 1849.4,332.2 1850.4,294.0 1851.4,333.8 1852.3,295.4 1853.3,333.4 1854.2,294.5 1855.2,333.4 1856.2,293.0 1857.1,338.8 1858.1,289.8 1859.1,338.5 1860.0,302.0 1861.0,337.8 1862.0,302.7 1863.0,340.3 1863.9,302.7 1864.9,342.9 1865.9,302.2 1866.9,342.4 1867.9,300.6 1868.9,338.0 1869.8,299.6 1870.8,346.0 1871.8,299.9 1872.8,339.9 1873.8,300.6 1874.8,341.9 1875.7,302.6 1876.7,341.0 1877.7,293.9 1878.7,340.3 1879.7,303.6 1880.6,340.4 1881.6,304.8 1882.6,340.6 1883.6,302.1 1884.6,342.3 1885.6,304.4 1886.5,343.1 1887.5,305.7 1888.5,342.1 1889.5,307.4 1890.5,346.5 1891.4,295.5 1892.4,347.6 1893.4,307.3 1894.4,346.0 1895.4,306.9 1896.4,347.0 1897.3,310.4 1898.3,346.9 1899.3,310.4 1900.3,350.1 1901.3,310.2 1902.2,346.8 1903.2,308.8 1904.2,348.1 1905.2,309.7 1906.2,348.4 1907.2,308.6 1908.1,348.1 1909.1,310.9 1910.1,350.6 1911.1,312.2 1912.1,347.9 1913.1,310.3 1914.0,348.6 1915.0,309.0 1916.0,349.2 1917.0,310.4 1918.0,352.3 1918.9,314.6 1919.9,351.1 1920.9,316.0 1921.9,353.4 1922.9,315.5 1923.9,352.5 1924.8,316.4 1925.8,364.3 1926.8,305.5 1927.8,354.7 1928.8,316.7 1929.7,353.7 1930.7,316.4 1931.7,352.9 1932.7,315.8 1933.7,352.8 1934.7,306.6 1935.6,353.8 1936.6,316.7 1937.6,355.5 1938.6,318.2 1939.6,354.3 1940.5,316.2 1941.5,353.9 1942.5,313.6 1943.5,361.0 1944.5,313.1 1945.5,353.3 1946.4,305.4 1947.4,356.1 1948.4,314.9 1949.4,356.6 1950.4,309.3 1951.3,356.8 1952.3,317.4 1953.3,360.4 1954.3,318.2 1955.3,370.0 1956.3,322.0 1957.2,360.5 1958.2,322.5 1959.2,360.6 1960.2,320.4 1961.2,362.5 1962.1,323.5 1963.1,364.2 1964.1,320.5 1965.1,355.7 1966.1,319.0 1967.1,357.6 1968.0,309.2 1969.0,358.9 1970.0,318.7 1971.0,356.1 1972.0,320.8 1973.0,358.8 1974.0,318.1 1975.0,360.5 1976.0,320.5 1977.0,358.4 1978.0,321.7 1979.0,362.1 1980.0,324.0 1981.0,364.1 1982.0,323.1 1983.0,362.5 1984.0,325.8 1985.0,365.0 1986.0,326.3 1987.0,363.8 1988.0,327.0 1989.0,367.8 1990.0,329.7 1991.0,367.4 1992.0,326.2 1993.0,369.1 1994.0,328.5 1995.0,365.4 1996.0,329.7 1997.0,369.1 1998.0,328.5 1999.0,363.4 2000.0,320.9 2001.0,364.3 2002.0,324.1 2003.0,365.2 2004.0,323.7 2005.0,366.5 2006.0,326.7 2007.0,376.0 2008.0,324.6" stroke="#F9AB00" stroke-width="6.5" opacity="0.2"/>
<polyline points="2016.5,37.0 2016.9,10.4 2017.2,38.2 2017.6,10.7 2018.0,43.1 2018.3,12.5 2018.7,45.7 2019.1,17.5 2019.4,43.2 2019.8,14.9 2020.2,52.0 2020.5,19.1 2020.9,59.9 2021.3,17.0 2021.6,52.0 2022.0,5.3 2022.9,53.7 2023.7,19.4 2024.6,56.9 2025.5,7.6 2026.3,63.9 2027.2,23.6 2028.1,57.7 2028.9,26.0 2029.8,59.5 2030.7,28.3 2031.5,65.0 2032.4,31.2 2033.3,61.5 2034.1,26.6 2035.0,64.5 2036.0,28.2 2037.0,62.8 2038.0,26.6 2039.0,72.0 2040.0,25.5 2041.0,63.1 2042.0,25.4 2043.0,60.2 2044.0,29.3 2045.0,60.3 2046.0,30.0 2047.0,60.8 2048.0,27.7 2049.0,67.2 2050.0,27.5 2051.0,59.0 2052.0,23.3 2053.0,70.6 2054.0,25.0 2055.0,60.8 2056.0,27.7 2057.0,67.2 2058.0,23.9 2059.0,64.9 2060.0,25.9 2061.0,60.3 2062.0,27.9 2063.0,71.5 2064.0,26.4 2065.0,63.8 2066.0,25.2 2067.0,64.3 2068.0,25.1 2069.0,60.5 2070.0,24.4 2071.0,68.3 2072.0,25.0 2073.0,74.9 2074.0,25.3 2075.0,76.5 2076.0,20.5 2076.9,64.0 2077.9,25.2 2078.9,63.9 2079.9,28.7 2080.9,58.9 2081.9,25.1 2082.9,59.0 2083.9,23.1 2084.9,58.9 2085.9,26.2 2086.9,61.3 2087.9,30.6 2088.9,73.0 2089.9,30.7 2090.9,65.2 2091.9,29.4 2092.9,64.0 2093.9,32.1 2094.9,65.2 2095.9,30.2 2096.9,65.7 2097.9,29.1 2098.9,64.8 2099.9,29.0 2100.9,72.2 2101.9,30.1 2102.9,62.1 2103.9,27.1 2104.9,65.0 2105.9,19.9 2106.9,65.6 2107.9,28.6 2108.9,61.1 2109.9,27.0 2110.8,62.7 2111.8,29.4 2112.8,66.8 2113.8,30.9 2114.8,68.1 2115.8,29.4 2116.8,63.8 2117.8,24.3 2118.8,66.6 2119.8,33.0 2120.8,68.4 2121.8,30.5 2122.8,65.9 2123.8,32.0 2124.8,67.3 2125.8,25.5 2126.8,74.3" stroke="#F9AB00" stroke-width="6.5" opacity="0.2"/>
<polyline points="1489.0,-29.2 1489.0,-30.0 1489.0,-27.2 1489.0,-28.2 1489.0,-25.5 1489.0,-26.3 1489.0,-23.4 1489.0,-24.5 1489.0,-21.8 1489.0,-22.8 1489.0,-20.1 1489.1,-21.1 1489.1,-17.7 1489.1,-19.1 1489.1,-16.4 1489.1,-17.3 1489.1,-14.8 1489.1,-15.5 1489.1,-12.9 1489.1,-13.8 1489.1,-10.6 1489.1,-12.0 1489.1,-9.2 1489.1,-10.0 1489.1,-7.4 1489.1,-8.8 1489.1,-5.7 1489.1,-6.5 1489.1,-3.7 1489.1,-5.1 1489.1,-2.0 1489.2,-2.9 1489.2,-0.2 1489.2,-1.1 1489.2,1.6 1489.2,0.3 1489.2,3.4 1489.2,2.5 1489.2,5.6 1489.2,4.1 1489.2,7.0 1489.2,6.2 1489.2,8.8 1489.2,8.0 1489.2,10.5 1489.2,9.6 1489.2,12.4 1489.2,11.5 1489.2,14.2 1489.2,13.3 1489.2,15.9 1489.3,15.0 1489.3,17.9 1489.3,16.9 1489.3,19.5 1489.3,18.7 1489.3,21.4 1489.3,20.6 1489.3,23.3 1489.3,22.4 1489.3,24.9 1489.3,24.1 1489.4,27.2 1489.5,25.8 1489.6,28.4 1489.7,27.2 1489.8,30.4 1489.9,29.4 1490.0,32.1 1490.1,31.3 1490.2,33.8 1490.3,32.9 1490.4,35.9 1490.5,34.7 1490.6,37.4 1490.7,36.5 1490.8,39.4 1490.9,38.2 1491.0,47.7 1491.2,34.3 1491.4,50.9 1491.6,35.0 1491.9,50.5 1492.1,36.7 1492.3,51.8 1492.5,35.6 1492.7,54.5 1492.9,37.2 1493.1,59.4 1493.4,42.1 1493.6,57.7 1493.8,42.9 1494.0,61.1 1494.6,38.6 1495.1,62.8 1495.7,46.3 1496.2,63.1 1496.8,47.4 1497.3,68.7 1497.9,48.7 1498.4,66.5 1499.0,50.6 1499.7,68.6 1500.4,49.9 1501.1,66.7 1501.8,49.6 1502.4,67.2 1503.1,50.8 1503.8,68.0 1504.5,53.9 1504.7,70.4 1504.9,55.5 1505.1,76.6 1505.3,57.6 1505.5,74.8 1505.7,60.8 1505.9,74.8 1506.1,60.9 1506.2,77.9 1506.4,63.4 1506.6,81.0 1506.8,65.9 1507.0,81.1 1507.2,67.0 1507.4,84.7 1507.6,69.7 1507.8,87.0 1508.0,71.2 1508.2,88.1 1508.4,71.5 1508.6,88.3 1508.8,73.5 1508.9,93.2 1509.1,76.7 1509.3,91.0 1509.5,77.8 1509.7,93.1 1509.9,79.3 1510.1,99.2 1510.2,76.2 1510.4,96.8 1510.6,83.4 1510.8,100.4 1511.0,80.6 1511.3,98.7 1511.5,80.2 1511.8,100.9 1512.0,86.3 1512.3,101.4 1512.6,83.2 1512.8,104.7 1513.1,85.9 1513.3,103.9 1513.6,85.3 1513.9,106.8 1514.1,93.7 1514.4,110.5 1514.7,96.3 1514.9,114.0 1515.2,99.4 1515.4,119.1 1515.7,101.8 1516.0,117.1 1516.2,99.9 1516.5,119.7 1516.7,103.1 1517.0,121.9 1517.3,107.7 1517.6,123.8 1517.9,109.0 1518.2,125.3 1518.5,111.0 1518.8,127.4 1519.1,113.0 1519.3,130.4 1519.6,113.7 1519.9,128.2 1520.2,110.3 1520.5,131.0 1520.8,112.9 1521.1,132.8 1521.4,118.9 1521.7,134.2 1522.0,119.6 1522.3,135.7 1522.6,121.7 1522.9,137.7 1523.2,123.4 1523.4,141.9 1523.7,124.6 1524.0,140.5 1524.3,125.9 1524.6,142.1 1524.9,124.6 1525.2,145.0 1525.5,128.6 1525.8,144.3 1526.1,130.6 1526.5,146.8 1526.8,129.5 1527.1,147.9 1527.4,131.3 1527.8,151.9 1528.1,134.9 1528.4,155.9 1528.7,140.5 1529.0,156.0 1529.4,142.9 1529.7,160.1 1530.0,139.3 1530.3,157.4 1530.6,141.6 1531.0,158.7 1531.3,144.2 1531.6,164.0 1531.9,145.1 1532.2,161.4 1532.6,144.7 1532.9,165.4 1533.2,144.5 1533.5,163.9 1533.9,150.5 1534.2,169.1 1534.5,149.7 1534.8,167.0 1535.1,153.2 1535.5,170.0 1535.8,157.1 1536.1,171.6 1536.4,156.7 1536.8,175.2 1537.1,160.3 1537.4,175.5 1537.7,159.1 1538.0,177.4 1538.4,161.7 1538.7,183.5 1539.0,163.8 1539.5,180.8 1540.0,162.8 1540.6,181.4 1541.1,163.6 1541.6,182.4 1542.1,165.8 1542.7,183.1 1543.2,167.1 1543.7,184.6 1544.2,170.4 1544.7,192.9 1545.3,174.8 1545.8,192.3 1546.3,176.6 1546.8,199.7 1547.3,174.2 1547.9,196.6 1548.4,178.7 1548.9,196.9 1549.4,181.9 1550.0,199.4 1550.5,181.9 1551.0,201.5 1551.6,184.0 1552.2,207.1 1552.9,186.5 1553.5,207.1 1554.1,185.2 1554.7,203.6 1555.3,185.8 1556.0,210.4 1556.6,182.6 1557.2,206.4 1557.8,188.7 1558.4,207.2 1559.1,189.6 1559.7,208.1 1560.3,191.3 1560.9,209.8 1561.5,190.6 1562.2,210.3 1562.8,192.9 1563.4,210.3 1564.0,195.5 1564.5,212.4 1565.1,196.3 1565.6,212.8 1566.2,197.9 1566.7,215.9 1567.3,196.1 1567.8,217.3 1568.4,200.0 1568.9,217.1 1569.5,200.3 1570.0,217.7 1570.6,198.5 1571.1,219.7 1571.7,203.1 1572.2,220.6 1572.8,202.8 1573.3,221.2 1573.9,200.6 1574.4,224.2 1575.0,208.4 1575.6,230.8 1576.2,210.4 1576.8,227.7 1577.4,205.4 1578.0,226.8 1578.6,205.4 1579.2,227.4 1579.8,211.4 1580.4,234.8 1581.0,213.0 1581.6,229.7 1582.2,214.0 1582.8,236.1 1583.4,214.7 1584.0,234.4 1584.6,218.0 1585.2,237.1 1585.8,220.4 1586.4,238.9 1587.0,222.2 1587.8,239.8 1588.6,223.8 1589.4,240.1 1590.2,219.6 1591.0,241.3 1591.8,219.0 1592.6,242.6 1593.3,224.9 1594.1,241.5 1594.9,226.1 1595.7,243.6 1596.5,225.2 1597.3,244.2 1598.1,226.9 1598.9,245.7 1599.7,227.1 1600.5,244.5 1601.3,228.1 1602.1,245.2 1602.9,229.1 1603.7,250.1 1604.4,230.2 1605.2,251.3 1606.0,228.6 1606.8,255.0 1607.6,231.3 1608.4,253.2 1609.2,235.4 1610.0,253.1 1610.8,236.7 1611.7,257.0 1612.5,235.8 1613.4,252.3 1614.2,234.7 1615.1,250.8 1615.9,233.3 1616.7,250.6 1617.6,234.3 1618.4,257.0 1619.3,234.4 1620.1,257.7 1620.9,232.4 1621.8,252.3 1622.6,235.0 1623.5,254.8 1624.3,236.5 1625.2,255.8 1626.0,237.6 1626.8,259.5 1627.7,238.5 1628.5,258.1 1629.4,238.7 1630.2,263.1 1631.1,242.7 1631.9,263.6 1632.7,244.5 1633.6,262.9 1634.4,245.0 1635.3,266.4 1636.1,241.5 1636.9,263.5 1637.8,246.5 1638.6,262.7 1639.5,246.1 1640.3,265.9 1641.2,246.6 1642.0,263.0 1642.8,247.3 1643.7,266.1 1644.5,241.7 1645.4,265.3 1646.2,248.2 1647.1,265.9 1647.9,248.1 1648.8,266.0 1649.6,249.5 1650.5,268.1 1651.3,250.5 1652.2,267.5 1653.0,250.7 1653.9,268.9 1654.7,252.6 1655.6,271.9 1656.4,252.5 1657.3,271.8 1658.1,247.9 1659.0,270.9 1659.8,255.1 1660.7,272.0 1661.5,254.8 1662.4,276.4 1663.2,253.3 1664.1,271.2 1664.9,247.6 1665.8,271.6 1666.6,253.4 1667.5,274.2 1668.3,252.8 1669.2,272.3 1670.0,250.2 1670.8,271.8 1671.7,255.9 1672.5,272.4 1673.4,256.1 1674.2,279.0 1675.1,256.3 1675.9,272.9 1676.8,256.6 1677.6,276.5 1678.4,257.3 1679.3,275.1 1680.1,255.0 1681.0,276.0 1681.8,258.1 1682.7,281.0 1683.5,256.9 1684.3,280.8 1685.2,260.6 1686.0,283.2 1686.9,263.5 1687.7,280.2 1688.6,264.5 1689.4,281.4 1690.2,266.3 1691.1,282.5 1691.9,262.2 1692.8,284.8 1693.6,261.4 1694.5,285.4 1695.3,266.9 1696.2,285.1 1697.0,266.5 1697.9,285.4 1698.8,264.2 1699.7,286.0 1700.5,265.2 1701.4,287.1 1702.3,268.3 1703.2,286.2 1704.1,269.2 1705.0,286.6 1705.9,270.4 1706.7,286.2 1707.6,269.0 1708.5,290.3 1709.4,265.6 1710.3,286.8 1711.2,270.6 1712.0,291.7 1712.9,273.1 1713.8,290.0 1714.7,274.2 1715.6,291.3 1716.5,275.3 1717.4,291.5 1718.2,275.1 1719.1,292.1 1720.0,274.3 1720.9,293.1 1721.8,275.8 1722.7,293.8 1723.6,276.1 1724.4,294.0 1725.3,273.6 1726.2,293.0 1727.1,271.7 1728.0,298.9 1728.9,276.9 1729.8,293.3 1730.6,275.4 1731.5,292.8 1732.4,273.1 1733.3,292.3 1734.2,276.3 1735.1,293.4 1736.0,276.6 1736.8,298.0 1737.7,277.8 1738.6,294.2 1739.5,279.0 1740.4,295.3 1741.3,279.5 1742.1,300.4 1743.0,280.0 1743.9,297.3 1744.8,279.5 1745.7,301.0 1746.6,280.0 1747.5,294.8 1748.3,276.9 1749.2,295.1 1750.1,277.9 1751.0,294.2 1751.9,271.6 1752.7,294.8 1753.6,276.8 1754.4,299.9 1755.3,278.3 1756.2,302.0 1757.0,275.0 1757.9,300.2 1758.7,281.6 1759.6,300.3 1760.5,282.6 1761.3,301.3 1762.2,283.9 1763.0,307.3 1763.9,285.1 1764.8,301.4 1765.6,286.3 1766.5,303.1 1767.3,285.1 1768.2,302.3 1769.0,282.6 1769.9,302.4 1770.8,280.4 1771.6,303.8 1772.5,287.0 1773.3,304.7 1774.2,282.7 1775.1,304.7 1775.9,286.8 1776.8,303.6 1777.6,286.1 1778.5,303.8 1779.4,285.3 1780.2,303.3 1781.1,283.4 1781.9,304.4 1782.8,286.3 1783.7,303.7 1784.5,285.1 1785.4,312.4 1786.2,290.4 1787.1,313.8 1788.0,291.0 1788.8,309.6 1789.7,290.2 1790.5,310.0 1791.4,293.2 1792.2,311.1 1793.1,287.7 1794.0,310.9 1794.8,294.2 1795.7,310.6 1796.5,294.5 1797.4,310.1 1798.3,290.0 1799.1,316.8 1800.0,291.0 1800.8,312.5 1801.7,294.4 1802.6,314.2 1803.4,293.7 1804.3,310.1 1805.1,293.4 1806.0,310.9 1806.9,291.8 1807.7,310.7 1808.6,292.0 1809.5,311.1 1810.4,292.5 1811.2,310.8 1812.1,294.2 1813.0,312.0 1813.9,290.8 1814.7,311.8 1815.6,293.6 1816.5,314.4 1817.3,295.3 1818.2,316.8 1819.1,293.7 1820.0,313.6 1820.8,296.8 1821.7,316.8 1822.6,295.9 1823.5,313.2 1824.3,298.0 1825.2,315.1 1826.1,295.2 1827.0,314.8 1827.8,297.6 1828.7,316.4 1829.6,294.5 1830.4,317.5 1831.3,299.6 1832.2,317.0 1833.1,299.4 1833.9,317.5 1834.8,300.2 1835.7,317.6 1836.6,300.6 1837.4,318.5 1838.3,300.9 1839.2,321.3 1840.0,301.5 1840.9,327.7 1841.8,306.0 1842.7,323.7 1843.5,303.0 1844.4,324.5 1845.3,304.8 1846.2,326.8 1847.0,307.9 1847.9,327.3 1848.8,308.4 1849.7,326.4 1850.5,308.7 1851.4,325.4 1852.3,303.2 1853.1,329.6 1854.0,308.6 1854.9,324.9 1855.8,306.1 1856.6,323.7 1857.5,305.7 1858.4,327.2 1859.3,304.7 1860.1,327.5 1861.0,306.7 1861.9,323.4 1862.7,307.0 1863.6,325.7 1864.5,307.2 1865.4,325.9 1866.2,307.5 1867.1,325.9 1868.0,309.8 1868.9,327.2 1869.7,309.3 1870.6,334.5 1871.5,310.2 1872.3,330.7 1873.2,313.5 1874.1,330.5 1875.0,314.6 1875.8,331.7 1876.7,315.8 1877.6,334.2 1878.5,316.1 1879.3,337.2 1880.2,317.3 1881.1,333.5 1882.0,316.6 1882.8,331.9 1883.7,315.7 1884.6,331.4 1885.4,314.0 1886.3,336.6 1887.2,311.6 1888.1,335.3 1888.9,316.6 1889.8,334.6 1890.7,315.5 1891.6,336.1 1892.4,318.4 1893.3,336.8 1894.2,318.7 1895.0,336.8 1895.9,313.0 1896.8,335.0 1897.7,316.8 1898.5,333.7 1899.4,315.6 1900.3,335.4 1901.2,315.8 1902.0,333.5 1902.9,316.8 1903.8,334.7 1904.7,315.7 1905.5,333.9 1906.4,317.2 1907.3,340.4 1908.1,320.7 1909.0,342.2 1909.9,320.0 1910.8,343.4 1911.6,316.0 1912.5,338.4 1913.4,321.3 1914.3,338.7 1915.1,320.9 1916.0,341.4 1916.9,322.1 1917.8,342.7 1918.7,321.5 1919.5,339.9 1920.4,322.8 1921.3,343.5 1922.2,323.8 1923.1,341.0 1924.0,322.4 1924.9,341.4 1925.7,324.2 1926.6,340.3 1927.5,324.4 1928.4,342.0 1929.3,325.0 1930.2,340.6 1931.0,325.2 1931.9,343.4 1932.8,325.7 1933.7,343.4 1934.6,323.1 1935.5,345.2 1936.4,327.7 1937.2,344.4 1938.1,325.2 1939.0,344.5 1939.9,328.3 1940.8,343.2 1941.7,325.8 1942.6,343.2 1943.4,324.5 1944.3,341.3 1945.2,324.0 1946.1,342.3 1947.0,325.3 1947.9,345.0 1948.8,323.1 1949.6,343.9 1950.5,326.9 1951.4,343.6 1952.3,328.2 1953.2,344.6 1954.1,328.4 1955.0,345.2 1955.8,329.5 1956.7,346.0 1957.6,329.4 1958.5,346.3 1959.4,330.3 1960.3,348.1 1961.1,325.5 1962.0,349.3 1962.9,328.2 1963.8,349.8 1964.7,328.7 1965.6,346.7 1966.5,329.9 1967.3,347.7 1968.2,329.9 1969.1,351.6 1970.0,328.7 1970.9,347.7 1971.8,330.8 1972.6,351.5 1973.5,331.7 1974.4,352.1 1975.3,331.9 1976.2,349.6 1977.1,332.3 1977.9,349.3 1978.8,329.1 1979.7,349.9 1980.6,333.1 1981.5,356.5 1982.4,334.2 1983.2,350.4 1984.1,334.1 1985.0,350.4 1985.9,328.5 1986.8,354.3 1987.6,334.2 1988.5,353.1 1989.4,334.1 1990.3,351.3 1991.2,334.3 1992.1,351.4 1992.9,330.3 1993.8,360.0 1994.7,338.6 1995.6,355.2 1996.5,338.8 1997.4,356.3 1998.2,337.0 1999.1,354.1 2000.0,337.0 2000.9,353.9 2001.8,336.7 2002.7,355.4 2003.6,337.3 2004.4,354.5 2005.3,337.9 2006.2,358.7 2007.1,340.6 2008.0,357.3" stroke="#F9AB00" stroke-width="5.5"/>
<polyline points="2016.5,30.0 2016.8,16.3 2017.1,33.1 2017.5,17.1 2017.8,39.6 2018.1,19.9 2018.4,35.8 2018.8,17.1 2019.1,35.2 2019.4,20.2 2019.7,35.4 2020.1,21.8 2020.4,37.6 2020.7,20.2 2021.0,38.5 2021.4,23.5 2021.7,43.7 2022.0,22.1 2022.8,44.3 2023.5,26.4 2024.3,47.2 2025.1,26.9 2025.8,49.9 2026.6,27.7 2027.4,45.8 2028.1,29.6 2028.9,49.2 2029.6,30.8 2030.4,54.4 2031.2,32.6 2031.9,54.2 2032.7,33.3 2033.5,55.4 2034.2,30.3 2035.0,52.5 2035.9,33.9 2036.8,55.2 2037.7,35.1 2038.6,54.2 2039.5,30.8 2040.4,54.1 2041.2,35.2 2042.1,57.3 2043.0,35.0 2043.9,54.9 2044.8,35.9 2045.7,57.7 2046.6,35.9 2047.5,55.0 2048.4,34.3 2049.3,54.1 2050.2,32.7 2051.1,53.7 2052.0,36.9 2052.9,55.4 2053.8,36.7 2054.6,55.4 2055.5,35.3 2056.4,57.9 2057.3,38.5 2058.2,57.0 2059.1,37.2 2060.0,57.7 2060.9,39.0 2061.8,54.9 2062.7,36.5 2063.6,54.4 2064.5,36.5 2065.4,54.7 2066.3,35.7 2067.2,55.2 2068.1,32.0 2069.0,56.8 2069.9,34.8 2070.8,53.8 2071.7,33.4 2072.6,53.0 2073.5,34.3 2074.4,59.5 2075.3,37.3 2076.2,56.4 2077.2,39.0 2078.1,57.6 2079.0,40.1 2079.9,58.7 2080.8,40.1 2081.7,61.2 2082.6,38.6 2083.5,57.6 2084.4,34.2 2085.3,62.3 2086.2,39.9 2087.1,62.5 2088.0,38.1 2088.9,61.2 2089.8,38.6 2090.7,58.2 2091.6,38.8 2092.5,56.8 2093.4,39.0 2094.3,57.7 2095.2,34.9 2096.1,56.6 2097.0,38.1 2097.9,58.4 2098.8,39.3 2099.7,58.5 2100.6,39.9 2101.5,57.4 2102.4,38.4 2103.3,57.6 2104.2,38.5 2105.1,57.8 2106.0,38.0 2106.9,62.6 2107.8,37.6 2108.7,58.7 2109.6,41.4 2110.6,59.0 2111.5,39.2 2112.4,56.3 2113.3,37.5 2114.2,56.1 2115.1,38.5 2116.0,56.5 2116.9,36.9 2117.8,55.7 2118.7,37.2 2119.6,60.1 2120.5,38.1 2121.4,54.9 2122.3,37.5 2123.2,54.3 2124.1,36.1 2125.0,58.9 2125.9,36.5 2126.8,56.9" stroke="#F9AB00" stroke-width="5.5"/>
</g><g clip-path="url(#cr)">
<rect x="1705.2" y="-5" width="7" height="285" fill="#F9AB00"/>
<path d="M1997.5 350 L1998 296 L2002 288 L2004 300 L2006 310 L2008.5 300 L2009.3 -5 L2015.6 -5 L2016 60 L2015 200 L2013.5 356 L2006 362 L1999 358z" fill="#F9AB00"/>
</g>
<circle cx="2227.3" cy="54.2" r="22.2" fill="#3F4C66"/><circle cx="2227.3" cy="162.3" r="22.2" fill="#F9AB00"/>
<g font-size="33" fill="#000" stroke="#000" stroke-width="0.6"><text x="2277" y="44.6" textLength="256.6" lengthAdjust="spacingAndGlyphs">40B-Embedding-</text><text x="2277" y="84.6" textLength="290.6" lengthAdjust="spacingAndGlyphs">Gradient-Shrink-0.1</text><text x="2277" y="153.0" textLength="312.4" lengthAdjust="spacingAndGlyphs">40B-No-Embedding-</text><text x="2277" y="193.0" textLength="236" lengthAdjust="spacingAndGlyphs">Gradient-Shrink</text></g>
<g font-family="'Liberation Serif', serif" font-size="38.8" fill="#000" stroke="#000" stroke-width="0.45"><text x="122.8" y="599.2" textLength="1070.6" lengthAdjust="spacingAndGlyphs">(a) Gradient norm of embedding layer (left) and the first layer (right)</text><text x="1436" y="599.2" textLength="1101.6" lengthAdjust="spacingAndGlyphs">(b) Training loss curves of GLM-40B with and without gradient shrink</text></g>
</svg>
</body></html>
